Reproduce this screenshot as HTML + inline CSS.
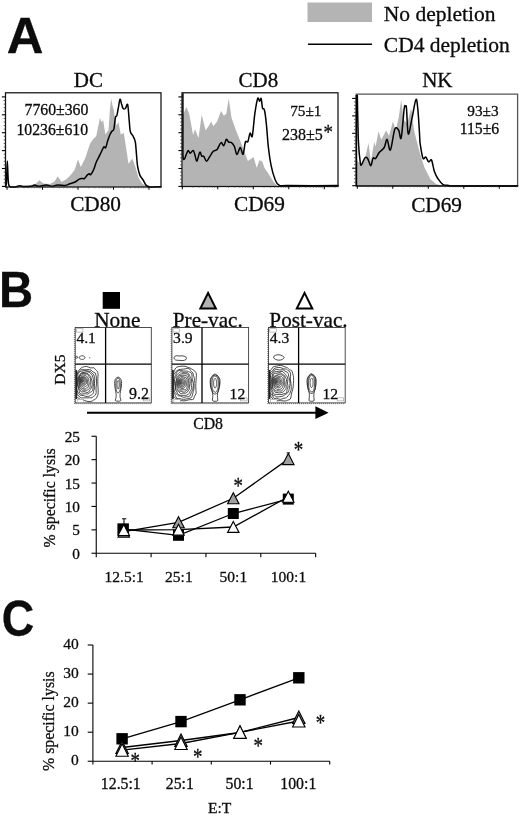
<!DOCTYPE html>
<html><head><meta charset="utf-8"><title>Figure</title>
<style>
html,body{margin:0;padding:0;background:#fff;}
svg{display:block;font-family:"Liberation Serif", serif;fill:#000;}
svg text{fill:#0c0c0c;stroke:#0c0c0c;stroke-width:0.3px;}
svg text.ast{stroke:#111;stroke-width:0.45px;}
</style></head>
<body>
<svg width="520" height="816" viewBox="0 0 520 816">
<rect x="0" y="0" width="520" height="816" fill="#fff"/>
<rect x="307.5" y="2.5" width="64.5" height="19.5" fill="#b4b4b4"/>
<line x1="308" y1="44.2" x2="372" y2="44.2" stroke="#000" stroke-width="1.6"/>
<text x="383.8" y="20.5" font-size="21.5">No depletion</text>
<text x="383.8" y="51.5" font-size="21.5">CD4 depletion</text>
<text transform="translate(6.7,52.6) scale(1.01,1)" font-family='"Liberation Sans", sans-serif' font-weight="bold" font-size="50.3">A</text>
<text transform="translate(-1.0,306.8) scale(0.94,1)" font-family='"Liberation Sans", sans-serif' font-weight="bold" font-size="50.3">B</text>
<text transform="translate(1.7,636.2) scale(0.905,1)" font-family='"Liberation Sans", sans-serif' font-weight="bold" font-size="49.6">C</text>
<text x="88.4" y="87.2" font-size="21" text-anchor="middle">DC</text>
<text x="258.4" y="87.2" font-size="21" text-anchor="middle">CD8</text>
<text x="437.3" y="87.2" font-size="21" text-anchor="middle">NK</text>
<text x="95.6" y="211.2" font-size="21.3" text-anchor="middle">CD80</text>
<text x="259.4" y="211.2" font-size="21.3" text-anchor="middle">CD69</text>
<text x="436.6" y="212" font-size="21.3" text-anchor="middle">CD69</text>
<polygon points="5.5,187.0 5.4,186.9 11.5,186.5 21.2,186.0 30.8,185.0 35.6,184.0 39.4,180.2 43.3,183.5 50.0,184.0 54.8,181.2 57.7,176.3 61.5,182.1 66.3,179.2 70.2,175.4 74.6,170.0 78.0,159.2 80.8,166.9 85.4,157.7 90.0,143.8 93.1,139.2 96.2,136.2 100.0,117.7 101.5,122.3 103.1,120.0 105.4,134.6 108.5,130.0 110.0,108.5 111.2,98.5 112.5,105.4 113.8,110.0 116.2,125.4 118.5,122.3 120.8,134.6 123.8,133.1 126.2,148.5 128.5,163.8 132.3,158.5 135.4,166.9 138.5,177.7 142.3,183.8 146.9,186.6 148.0,187.0" fill="#b4b4b4"/>
<path d="M5.8,186.5C5.9,185.6 6.3,185.4 6.5,181.2C6.8,176.9 7.0,161.0 7.3,161.0C7.6,161.0 7.9,176.9 8.3,181.2C8.7,185.4 8.4,185.4 9.6,186.3C10.8,187.3 13.8,187.0 15.4,186.9C17.0,186.8 17.9,185.8 19.2,185.8C20.5,185.7 21.2,186.4 23.1,186.5C25.0,186.6 28.8,186.6 30.8,186.3C32.7,186.1 33.3,185.0 34.6,185.0C35.9,185.0 36.5,186.2 38.5,186.2C40.4,186.2 43.9,185.0 46.2,185.0C48.4,185.0 50.0,186.2 51.9,186.2C53.8,186.2 55.4,185.1 57.7,185.0C59.9,184.9 63.5,185.5 65.4,185.4C67.3,185.2 67.7,184.6 69.2,184.0C70.8,183.5 72.9,183.1 74.6,182.3C76.3,181.5 78.1,179.9 79.2,179.2C80.4,178.6 80.6,178.6 81.5,178.5C82.4,178.3 83.7,179.0 84.6,178.5C85.5,177.9 86.2,176.2 86.9,175.4C87.7,174.6 88.6,174.0 89.2,173.8C89.9,173.7 90.0,175.4 90.8,174.6C91.5,173.8 92.9,171.3 93.8,169.2C94.7,167.2 95.4,164.2 96.2,162.3C96.9,160.4 97.6,159.5 98.5,157.7C99.4,155.9 100.6,153.3 101.5,151.5C102.4,149.7 103.2,147.6 103.8,146.9C104.5,146.3 105.1,148.7 105.7,147.7C106.3,146.7 106.9,143.1 107.7,140.8C108.5,138.5 109.5,135.5 110.3,133.8C111.1,132.2 111.7,131.5 112.3,130.8C112.9,130.0 113.3,131.4 113.8,129.2C114.4,127.1 114.9,120.0 115.4,117.7C115.9,115.4 116.4,117.2 116.9,115.4C117.4,113.6 117.9,109.6 118.5,106.9C119.0,104.2 119.5,99.7 120.0,99.2C120.5,98.7 121.0,102.3 121.5,103.8C122.1,105.4 122.4,107.7 123.1,108.5C123.7,109.2 124.6,109.1 125.4,108.5C126.2,107.8 127.1,102.6 127.7,104.6C128.3,106.7 128.8,116.3 129.2,120.8C129.7,125.3 129.7,129.0 130.3,131.5C130.9,134.1 132.2,134.4 133.1,136.2C133.9,137.9 134.8,139.2 135.4,142.3C135.9,145.4 136.1,150.5 136.5,154.6C136.8,158.7 137.1,163.5 137.7,166.9C138.3,170.4 139.1,173.2 140.0,175.4C140.9,177.6 142.1,178.3 143.1,180.0C144.1,181.7 145.0,184.2 146.2,185.4C147.3,186.5 147.5,186.7 150.0,186.9C152.5,187.2 159.2,186.8 161.0,186.8" fill="none" stroke="#000" stroke-width="1.5" stroke-linejoin="round" stroke-linecap="round"/>
<rect x="5.5" y="92.8" width="155.5" height="94.2" fill="none" stroke="#111" stroke-width="1.25"/>
<polygon points="182.0,186.5 183.2,136.0 182.5,115.8 186.3,107.1 189.2,113.8 193.1,135.0 195.0,129.2 198.5,137.9 201.7,114.8 205.6,130.2 208.5,126.3 211.3,121.5 213.3,126.3 217.1,121.5 221.0,111.0 223.8,115.8 226.3,113.8 228.7,98.5 231.5,117.7 236.3,131.2 240.2,140.8 244.0,150.4 247.9,161.0 250.8,159.0 253.5,157.1 256.7,167.7 259.6,160.0 262.5,161.9 264.4,167.7 268.3,173.5 273.1,181.2 276.9,185.4 277.0,186.5" fill="#b4b4b4"/>
<path d="M182.9,93.7C182.9,101.8 182.9,132.0 182.9,142.7C182.9,153.4 182.8,155.0 183.1,157.7C183.3,160.4 183.9,159.6 184.4,159.0C185.0,158.5 185.7,155.7 186.3,154.2C187.0,152.8 187.6,150.5 188.3,150.4C188.9,150.2 189.4,153.3 190.2,153.3C191.0,153.3 192.3,150.1 193.1,150.4C193.9,150.7 194.4,153.4 195.0,155.2C195.6,157.0 196.1,161.4 196.9,161.0C197.7,160.5 199.0,153.1 199.8,152.3C200.6,151.5 201.1,155.5 201.7,156.2C202.4,156.8 202.9,155.3 203.7,156.2C204.5,157.0 205.6,161.2 206.5,161.3C207.5,161.5 208.3,158.8 209.4,157.1C210.5,155.4 212.0,152.6 213.3,151.3C214.6,150.1 215.8,150.9 217.1,149.4C218.4,148.0 219.8,143.3 221.0,142.7C222.1,142.1 222.9,146.1 223.8,145.6C224.7,145.0 225.5,140.0 226.3,139.4C227.1,138.8 227.8,141.6 228.7,142.1C229.5,142.7 230.6,142.0 231.5,142.7C232.5,143.4 233.5,144.6 234.4,146.5C235.3,148.5 236.0,154.5 236.9,154.6C237.9,154.8 239.2,147.6 240.2,147.5C241.2,147.4 242.2,155.1 243.1,154.2C243.9,153.3 244.6,144.2 245.4,142.1C246.2,140.0 247.1,143.2 247.9,141.7C248.7,140.2 249.3,134.0 250.0,133.1C250.7,132.1 251.5,139.2 252.3,136.0C253.1,132.8 253.9,120.1 254.8,113.8C255.7,107.6 256.9,100.5 257.7,98.5C258.5,96.4 259.0,101.3 259.6,101.3C260.2,101.3 260.7,97.3 261.2,98.5C261.6,99.6 262.0,106.2 262.5,108.1C263.0,110.0 263.8,107.4 264.4,110.0C265.1,112.6 265.7,117.4 266.3,123.5C267.0,129.6 267.5,139.5 268.3,146.5C269.1,153.6 270.0,160.3 271.2,165.8C272.3,171.2 273.7,176.0 275.0,179.2C276.3,182.4 276.6,183.9 278.8,185.0C281.1,186.1 278.6,185.5 288.5,185.6C298.3,185.7 329.8,185.6 338.1,185.6" fill="none" stroke="#000" stroke-width="1.5" stroke-linejoin="round" stroke-linecap="round"/>
<rect x="182" y="92.8" width="156" height="93.7" fill="none" stroke="#111" stroke-width="1.25"/>
<polygon points="357.0,186.0 357.0,160.0 358.3,161.9 361.2,163.8 365.0,159.0 368.5,142.7 370.8,161.9 374.2,141.7 375.6,146.5 378.5,131.2 381.3,139.8 386.2,130.2 389.0,136.0 392.9,121.5 395.8,130.2 398.7,117.7 401.2,99.4 403.5,119.6 407.3,123.5 411.2,108.1 414.0,130.2 416.9,141.7 420.8,156.2 424.6,167.7 430.4,179.2 436.2,184.0 440.0,185.0 445.0,186.0" fill="#b4b4b4"/>
<path d="M357.3,95.0C357.4,99.7 357.7,115.5 357.9,123.5C358.1,131.4 358.1,136.3 358.5,142.7C358.8,149.1 359.7,158.2 360.2,161.9C360.7,165.6 360.7,165.5 361.5,164.8C362.3,164.1 363.9,158.7 365.0,157.7C366.1,156.7 366.9,157.7 367.9,159.0C368.8,160.4 369.9,165.9 370.8,165.8C371.6,165.6 372.3,159.3 373.1,158.1C373.9,156.9 374.5,159.4 375.6,158.5C376.6,157.5 378.0,154.1 379.4,152.3C380.9,150.5 382.9,149.6 384.2,147.5C385.5,145.4 386.1,139.0 387.1,139.4C388.1,139.8 389.1,151.7 390.4,150.0C391.7,148.3 393.4,132.5 394.8,129.2C396.2,125.9 397.6,128.8 398.7,130.2C399.7,131.6 400.2,141.5 401.2,137.9C402.1,134.3 403.5,113.7 404.2,108.5C404.9,103.2 405.0,106.5 405.4,106.5C405.8,106.5 406.1,103.9 406.5,108.5C407.0,113.0 407.3,132.5 408.3,134.0C409.2,135.6 410.8,123.5 412.1,117.7C413.4,111.9 415.0,100.7 416.0,99.4C416.9,98.1 417.2,103.4 417.9,110.0C418.5,116.6 419.5,133.4 419.8,138.8C420.2,144.3 419.5,139.5 420.0,142.7C420.5,145.9 421.9,155.7 422.9,158.1C423.8,160.5 424.8,156.5 425.8,157.1C426.7,157.8 427.7,161.4 428.7,161.9C429.6,162.4 430.6,158.4 431.5,160.0C432.5,161.6 433.3,168.3 434.4,171.5C435.5,174.7 436.8,177.1 438.3,179.2C439.7,181.4 441.3,183.6 443.1,184.6C444.8,185.6 446.9,185.2 448.8,185.4C450.8,185.6 443.2,185.9 454.6,186.0C466.1,186.1 507.0,186.0 517.5,186.0" fill="none" stroke="#000" stroke-width="1.5" stroke-linejoin="round" stroke-linecap="round"/>
<path d="M356.2,186 L356.2,94.2 L517.6,94.2 L517.6,186" fill="none" stroke="#555" stroke-width="1.3"/>
<line x1="355.6" y1="186" x2="518.2" y2="186" stroke="#000" stroke-width="1.4"/>
<line x1="356.4" y1="95" x2="356.4" y2="186" stroke="#000" stroke-width="1.6"/>
<line x1="1.9" y1="96.9" x2="5.5" y2="96.9" stroke="#000" stroke-width="1.1"/>
<line x1="3.7" y1="100.5" x2="5.5" y2="100.5" stroke="#333" stroke-width="0.8"/>
<line x1="3.7" y1="104.1" x2="5.5" y2="104.1" stroke="#333" stroke-width="0.8"/>
<line x1="3.7" y1="107.6" x2="5.5" y2="107.6" stroke="#333" stroke-width="0.8"/>
<line x1="3.7" y1="111.2" x2="5.5" y2="111.2" stroke="#333" stroke-width="0.8"/>
<line x1="1.9" y1="114.8" x2="5.5" y2="114.8" stroke="#000" stroke-width="1.1"/>
<line x1="3.7" y1="118.4" x2="5.5" y2="118.4" stroke="#333" stroke-width="0.8"/>
<line x1="3.7" y1="122.0" x2="5.5" y2="122.0" stroke="#333" stroke-width="0.8"/>
<line x1="3.7" y1="125.5" x2="5.5" y2="125.5" stroke="#333" stroke-width="0.8"/>
<line x1="3.7" y1="129.1" x2="5.5" y2="129.1" stroke="#333" stroke-width="0.8"/>
<line x1="1.9" y1="132.7" x2="5.5" y2="132.7" stroke="#000" stroke-width="1.1"/>
<line x1="3.7" y1="136.3" x2="5.5" y2="136.3" stroke="#333" stroke-width="0.8"/>
<line x1="3.7" y1="139.9" x2="5.5" y2="139.9" stroke="#333" stroke-width="0.8"/>
<line x1="3.7" y1="143.4" x2="5.5" y2="143.4" stroke="#333" stroke-width="0.8"/>
<line x1="3.7" y1="147.0" x2="5.5" y2="147.0" stroke="#333" stroke-width="0.8"/>
<line x1="1.9" y1="150.6" x2="5.5" y2="150.6" stroke="#000" stroke-width="1.1"/>
<line x1="3.7" y1="154.2" x2="5.5" y2="154.2" stroke="#333" stroke-width="0.8"/>
<line x1="3.7" y1="157.8" x2="5.5" y2="157.8" stroke="#333" stroke-width="0.8"/>
<line x1="3.7" y1="161.3" x2="5.5" y2="161.3" stroke="#333" stroke-width="0.8"/>
<line x1="3.7" y1="164.9" x2="5.5" y2="164.9" stroke="#333" stroke-width="0.8"/>
<line x1="1.9" y1="168.5" x2="5.5" y2="168.5" stroke="#000" stroke-width="1.1"/>
<line x1="3.7" y1="172.1" x2="5.5" y2="172.1" stroke="#333" stroke-width="0.8"/>
<line x1="3.7" y1="175.7" x2="5.5" y2="175.7" stroke="#333" stroke-width="0.8"/>
<line x1="3.7" y1="179.2" x2="5.5" y2="179.2" stroke="#333" stroke-width="0.8"/>
<line x1="3.7" y1="182.8" x2="5.5" y2="182.8" stroke="#333" stroke-width="0.8"/>
<line x1="1.9" y1="186.4" x2="5.5" y2="186.4" stroke="#000" stroke-width="1.1"/>
<line x1="7.0" y1="187.0" x2="7.0" y2="189.8" stroke="#000" stroke-width="1"/>
<line x1="17.7" y1="187.0" x2="17.7" y2="188.5" stroke="#555" stroke-width="0.5"/>
<line x1="23.9" y1="187.0" x2="23.9" y2="188.5" stroke="#555" stroke-width="0.5"/>
<line x1="28.4" y1="187.0" x2="28.4" y2="188.5" stroke="#555" stroke-width="0.5"/>
<line x1="31.8" y1="187.0" x2="31.8" y2="188.5" stroke="#555" stroke-width="0.5"/>
<line x1="34.6" y1="187.0" x2="34.6" y2="188.5" stroke="#555" stroke-width="0.5"/>
<line x1="37.0" y1="187.0" x2="37.0" y2="188.5" stroke="#555" stroke-width="0.5"/>
<line x1="39.1" y1="187.0" x2="39.1" y2="188.5" stroke="#555" stroke-width="0.5"/>
<line x1="40.9" y1="187.0" x2="40.9" y2="188.5" stroke="#555" stroke-width="0.5"/>
<line x1="42.5" y1="187.0" x2="42.5" y2="189.8" stroke="#000" stroke-width="1"/>
<line x1="53.2" y1="187.0" x2="53.2" y2="188.5" stroke="#555" stroke-width="0.5"/>
<line x1="59.4" y1="187.0" x2="59.4" y2="188.5" stroke="#555" stroke-width="0.5"/>
<line x1="63.9" y1="187.0" x2="63.9" y2="188.5" stroke="#555" stroke-width="0.5"/>
<line x1="67.3" y1="187.0" x2="67.3" y2="188.5" stroke="#555" stroke-width="0.5"/>
<line x1="70.1" y1="187.0" x2="70.1" y2="188.5" stroke="#555" stroke-width="0.5"/>
<line x1="72.5" y1="187.0" x2="72.5" y2="188.5" stroke="#555" stroke-width="0.5"/>
<line x1="74.6" y1="187.0" x2="74.6" y2="188.5" stroke="#555" stroke-width="0.5"/>
<line x1="76.4" y1="187.0" x2="76.4" y2="188.5" stroke="#555" stroke-width="0.5"/>
<line x1="78.0" y1="187.0" x2="78.0" y2="189.8" stroke="#000" stroke-width="1"/>
<line x1="88.7" y1="187.0" x2="88.7" y2="188.5" stroke="#555" stroke-width="0.5"/>
<line x1="94.9" y1="187.0" x2="94.9" y2="188.5" stroke="#555" stroke-width="0.5"/>
<line x1="99.4" y1="187.0" x2="99.4" y2="188.5" stroke="#555" stroke-width="0.5"/>
<line x1="102.8" y1="187.0" x2="102.8" y2="188.5" stroke="#555" stroke-width="0.5"/>
<line x1="105.6" y1="187.0" x2="105.6" y2="188.5" stroke="#555" stroke-width="0.5"/>
<line x1="108.0" y1="187.0" x2="108.0" y2="188.5" stroke="#555" stroke-width="0.5"/>
<line x1="110.1" y1="187.0" x2="110.1" y2="188.5" stroke="#555" stroke-width="0.5"/>
<line x1="111.9" y1="187.0" x2="111.9" y2="188.5" stroke="#555" stroke-width="0.5"/>
<line x1="113.5" y1="187.0" x2="113.5" y2="189.8" stroke="#000" stroke-width="1"/>
<line x1="124.2" y1="187.0" x2="124.2" y2="188.5" stroke="#555" stroke-width="0.5"/>
<line x1="130.4" y1="187.0" x2="130.4" y2="188.5" stroke="#555" stroke-width="0.5"/>
<line x1="134.9" y1="187.0" x2="134.9" y2="188.5" stroke="#555" stroke-width="0.5"/>
<line x1="138.3" y1="187.0" x2="138.3" y2="188.5" stroke="#555" stroke-width="0.5"/>
<line x1="141.1" y1="187.0" x2="141.1" y2="188.5" stroke="#555" stroke-width="0.5"/>
<line x1="143.5" y1="187.0" x2="143.5" y2="188.5" stroke="#555" stroke-width="0.5"/>
<line x1="145.6" y1="187.0" x2="145.6" y2="188.5" stroke="#555" stroke-width="0.5"/>
<line x1="147.4" y1="187.0" x2="147.4" y2="188.5" stroke="#555" stroke-width="0.5"/>
<line x1="149.0" y1="187.0" x2="149.0" y2="189.8" stroke="#000" stroke-width="1"/>
<line x1="159.7" y1="187.0" x2="159.7" y2="188.5" stroke="#555" stroke-width="0.5"/>
<line x1="178.4" y1="96.9" x2="182.0" y2="96.9" stroke="#000" stroke-width="1.1"/>
<line x1="180.2" y1="100.5" x2="182.0" y2="100.5" stroke="#333" stroke-width="0.8"/>
<line x1="180.2" y1="104.1" x2="182.0" y2="104.1" stroke="#333" stroke-width="0.8"/>
<line x1="180.2" y1="107.6" x2="182.0" y2="107.6" stroke="#333" stroke-width="0.8"/>
<line x1="180.2" y1="111.2" x2="182.0" y2="111.2" stroke="#333" stroke-width="0.8"/>
<line x1="178.4" y1="114.8" x2="182.0" y2="114.8" stroke="#000" stroke-width="1.1"/>
<line x1="180.2" y1="118.4" x2="182.0" y2="118.4" stroke="#333" stroke-width="0.8"/>
<line x1="180.2" y1="122.0" x2="182.0" y2="122.0" stroke="#333" stroke-width="0.8"/>
<line x1="180.2" y1="125.5" x2="182.0" y2="125.5" stroke="#333" stroke-width="0.8"/>
<line x1="180.2" y1="129.1" x2="182.0" y2="129.1" stroke="#333" stroke-width="0.8"/>
<line x1="178.4" y1="132.7" x2="182.0" y2="132.7" stroke="#000" stroke-width="1.1"/>
<line x1="180.2" y1="136.3" x2="182.0" y2="136.3" stroke="#333" stroke-width="0.8"/>
<line x1="180.2" y1="139.9" x2="182.0" y2="139.9" stroke="#333" stroke-width="0.8"/>
<line x1="180.2" y1="143.4" x2="182.0" y2="143.4" stroke="#333" stroke-width="0.8"/>
<line x1="180.2" y1="147.0" x2="182.0" y2="147.0" stroke="#333" stroke-width="0.8"/>
<line x1="178.4" y1="150.6" x2="182.0" y2="150.6" stroke="#000" stroke-width="1.1"/>
<line x1="180.2" y1="154.2" x2="182.0" y2="154.2" stroke="#333" stroke-width="0.8"/>
<line x1="180.2" y1="157.8" x2="182.0" y2="157.8" stroke="#333" stroke-width="0.8"/>
<line x1="180.2" y1="161.3" x2="182.0" y2="161.3" stroke="#333" stroke-width="0.8"/>
<line x1="180.2" y1="164.9" x2="182.0" y2="164.9" stroke="#333" stroke-width="0.8"/>
<line x1="178.4" y1="168.5" x2="182.0" y2="168.5" stroke="#000" stroke-width="1.1"/>
<line x1="180.2" y1="172.1" x2="182.0" y2="172.1" stroke="#333" stroke-width="0.8"/>
<line x1="180.2" y1="175.7" x2="182.0" y2="175.7" stroke="#333" stroke-width="0.8"/>
<line x1="180.2" y1="179.2" x2="182.0" y2="179.2" stroke="#333" stroke-width="0.8"/>
<line x1="180.2" y1="182.8" x2="182.0" y2="182.8" stroke="#333" stroke-width="0.8"/>
<line x1="178.4" y1="186.4" x2="182.0" y2="186.4" stroke="#000" stroke-width="1.1"/>
<line x1="182.3" y1="186.5" x2="182.3" y2="189.3" stroke="#000" stroke-width="1"/>
<line x1="193.0" y1="186.5" x2="193.0" y2="188.0" stroke="#555" stroke-width="0.5"/>
<line x1="199.2" y1="186.5" x2="199.2" y2="188.0" stroke="#555" stroke-width="0.5"/>
<line x1="203.7" y1="186.5" x2="203.7" y2="188.0" stroke="#555" stroke-width="0.5"/>
<line x1="207.1" y1="186.5" x2="207.1" y2="188.0" stroke="#555" stroke-width="0.5"/>
<line x1="209.9" y1="186.5" x2="209.9" y2="188.0" stroke="#555" stroke-width="0.5"/>
<line x1="212.3" y1="186.5" x2="212.3" y2="188.0" stroke="#555" stroke-width="0.5"/>
<line x1="214.4" y1="186.5" x2="214.4" y2="188.0" stroke="#555" stroke-width="0.5"/>
<line x1="216.2" y1="186.5" x2="216.2" y2="188.0" stroke="#555" stroke-width="0.5"/>
<line x1="217.8" y1="186.5" x2="217.8" y2="189.3" stroke="#000" stroke-width="1"/>
<line x1="228.5" y1="186.5" x2="228.5" y2="188.0" stroke="#555" stroke-width="0.5"/>
<line x1="234.7" y1="186.5" x2="234.7" y2="188.0" stroke="#555" stroke-width="0.5"/>
<line x1="239.2" y1="186.5" x2="239.2" y2="188.0" stroke="#555" stroke-width="0.5"/>
<line x1="242.6" y1="186.5" x2="242.6" y2="188.0" stroke="#555" stroke-width="0.5"/>
<line x1="245.4" y1="186.5" x2="245.4" y2="188.0" stroke="#555" stroke-width="0.5"/>
<line x1="247.8" y1="186.5" x2="247.8" y2="188.0" stroke="#555" stroke-width="0.5"/>
<line x1="249.9" y1="186.5" x2="249.9" y2="188.0" stroke="#555" stroke-width="0.5"/>
<line x1="251.7" y1="186.5" x2="251.7" y2="188.0" stroke="#555" stroke-width="0.5"/>
<line x1="253.3" y1="186.5" x2="253.3" y2="189.3" stroke="#000" stroke-width="1"/>
<line x1="264.0" y1="186.5" x2="264.0" y2="188.0" stroke="#555" stroke-width="0.5"/>
<line x1="270.2" y1="186.5" x2="270.2" y2="188.0" stroke="#555" stroke-width="0.5"/>
<line x1="274.7" y1="186.5" x2="274.7" y2="188.0" stroke="#555" stroke-width="0.5"/>
<line x1="278.1" y1="186.5" x2="278.1" y2="188.0" stroke="#555" stroke-width="0.5"/>
<line x1="280.9" y1="186.5" x2="280.9" y2="188.0" stroke="#555" stroke-width="0.5"/>
<line x1="283.3" y1="186.5" x2="283.3" y2="188.0" stroke="#555" stroke-width="0.5"/>
<line x1="285.4" y1="186.5" x2="285.4" y2="188.0" stroke="#555" stroke-width="0.5"/>
<line x1="287.2" y1="186.5" x2="287.2" y2="188.0" stroke="#555" stroke-width="0.5"/>
<line x1="288.8" y1="186.5" x2="288.8" y2="189.3" stroke="#000" stroke-width="1"/>
<line x1="299.5" y1="186.5" x2="299.5" y2="188.0" stroke="#555" stroke-width="0.5"/>
<line x1="305.7" y1="186.5" x2="305.7" y2="188.0" stroke="#555" stroke-width="0.5"/>
<line x1="310.2" y1="186.5" x2="310.2" y2="188.0" stroke="#555" stroke-width="0.5"/>
<line x1="313.6" y1="186.5" x2="313.6" y2="188.0" stroke="#555" stroke-width="0.5"/>
<line x1="316.4" y1="186.5" x2="316.4" y2="188.0" stroke="#555" stroke-width="0.5"/>
<line x1="318.8" y1="186.5" x2="318.8" y2="188.0" stroke="#555" stroke-width="0.5"/>
<line x1="320.9" y1="186.5" x2="320.9" y2="188.0" stroke="#555" stroke-width="0.5"/>
<line x1="322.7" y1="186.5" x2="322.7" y2="188.0" stroke="#555" stroke-width="0.5"/>
<line x1="324.3" y1="186.5" x2="324.3" y2="189.3" stroke="#000" stroke-width="1"/>
<line x1="335.0" y1="186.5" x2="335.0" y2="188.0" stroke="#555" stroke-width="0.5"/>
<line x1="352.2" y1="98.4" x2="355.8" y2="98.4" stroke="#000" stroke-width="1.1"/>
<line x1="354.0" y1="101.9" x2="355.8" y2="101.9" stroke="#333" stroke-width="0.8"/>
<line x1="354.0" y1="105.4" x2="355.8" y2="105.4" stroke="#333" stroke-width="0.8"/>
<line x1="354.0" y1="108.9" x2="355.8" y2="108.9" stroke="#333" stroke-width="0.8"/>
<line x1="354.0" y1="112.4" x2="355.8" y2="112.4" stroke="#333" stroke-width="0.8"/>
<line x1="352.2" y1="115.9" x2="355.8" y2="115.9" stroke="#000" stroke-width="1.1"/>
<line x1="354.0" y1="119.3" x2="355.8" y2="119.3" stroke="#333" stroke-width="0.8"/>
<line x1="354.0" y1="122.8" x2="355.8" y2="122.8" stroke="#333" stroke-width="0.8"/>
<line x1="354.0" y1="126.3" x2="355.8" y2="126.3" stroke="#333" stroke-width="0.8"/>
<line x1="354.0" y1="129.8" x2="355.8" y2="129.8" stroke="#333" stroke-width="0.8"/>
<line x1="352.2" y1="133.3" x2="355.8" y2="133.3" stroke="#000" stroke-width="1.1"/>
<line x1="354.0" y1="136.8" x2="355.8" y2="136.8" stroke="#333" stroke-width="0.8"/>
<line x1="354.0" y1="140.3" x2="355.8" y2="140.3" stroke="#333" stroke-width="0.8"/>
<line x1="354.0" y1="143.8" x2="355.8" y2="143.8" stroke="#333" stroke-width="0.8"/>
<line x1="354.0" y1="147.3" x2="355.8" y2="147.3" stroke="#333" stroke-width="0.8"/>
<line x1="352.2" y1="150.8" x2="355.8" y2="150.8" stroke="#000" stroke-width="1.1"/>
<line x1="354.0" y1="154.2" x2="355.8" y2="154.2" stroke="#333" stroke-width="0.8"/>
<line x1="354.0" y1="157.7" x2="355.8" y2="157.7" stroke="#333" stroke-width="0.8"/>
<line x1="354.0" y1="161.2" x2="355.8" y2="161.2" stroke="#333" stroke-width="0.8"/>
<line x1="354.0" y1="164.7" x2="355.8" y2="164.7" stroke="#333" stroke-width="0.8"/>
<line x1="352.2" y1="168.2" x2="355.8" y2="168.2" stroke="#000" stroke-width="1.1"/>
<line x1="354.0" y1="171.7" x2="355.8" y2="171.7" stroke="#333" stroke-width="0.8"/>
<line x1="354.0" y1="175.2" x2="355.8" y2="175.2" stroke="#333" stroke-width="0.8"/>
<line x1="354.0" y1="178.7" x2="355.8" y2="178.7" stroke="#333" stroke-width="0.8"/>
<line x1="354.0" y1="182.2" x2="355.8" y2="182.2" stroke="#333" stroke-width="0.8"/>
<line x1="352.2" y1="185.7" x2="355.8" y2="185.7" stroke="#000" stroke-width="1.1"/>
<line x1="357.3" y1="186.0" x2="357.3" y2="188.8" stroke="#000" stroke-width="1"/>
<line x1="368.0" y1="186.0" x2="368.0" y2="187.5" stroke="#555" stroke-width="0.5"/>
<line x1="374.2" y1="186.0" x2="374.2" y2="187.5" stroke="#555" stroke-width="0.5"/>
<line x1="378.7" y1="186.0" x2="378.7" y2="187.5" stroke="#555" stroke-width="0.5"/>
<line x1="382.1" y1="186.0" x2="382.1" y2="187.5" stroke="#555" stroke-width="0.5"/>
<line x1="384.9" y1="186.0" x2="384.9" y2="187.5" stroke="#555" stroke-width="0.5"/>
<line x1="387.3" y1="186.0" x2="387.3" y2="187.5" stroke="#555" stroke-width="0.5"/>
<line x1="389.4" y1="186.0" x2="389.4" y2="187.5" stroke="#555" stroke-width="0.5"/>
<line x1="391.2" y1="186.0" x2="391.2" y2="187.5" stroke="#555" stroke-width="0.5"/>
<line x1="392.8" y1="186.0" x2="392.8" y2="188.8" stroke="#000" stroke-width="1"/>
<line x1="403.5" y1="186.0" x2="403.5" y2="187.5" stroke="#555" stroke-width="0.5"/>
<line x1="409.7" y1="186.0" x2="409.7" y2="187.5" stroke="#555" stroke-width="0.5"/>
<line x1="414.2" y1="186.0" x2="414.2" y2="187.5" stroke="#555" stroke-width="0.5"/>
<line x1="417.6" y1="186.0" x2="417.6" y2="187.5" stroke="#555" stroke-width="0.5"/>
<line x1="420.4" y1="186.0" x2="420.4" y2="187.5" stroke="#555" stroke-width="0.5"/>
<line x1="422.8" y1="186.0" x2="422.8" y2="187.5" stroke="#555" stroke-width="0.5"/>
<line x1="424.9" y1="186.0" x2="424.9" y2="187.5" stroke="#555" stroke-width="0.5"/>
<line x1="426.7" y1="186.0" x2="426.7" y2="187.5" stroke="#555" stroke-width="0.5"/>
<line x1="428.3" y1="186.0" x2="428.3" y2="188.8" stroke="#000" stroke-width="1"/>
<line x1="439.0" y1="186.0" x2="439.0" y2="187.5" stroke="#555" stroke-width="0.5"/>
<line x1="445.2" y1="186.0" x2="445.2" y2="187.5" stroke="#555" stroke-width="0.5"/>
<line x1="449.7" y1="186.0" x2="449.7" y2="187.5" stroke="#555" stroke-width="0.5"/>
<line x1="453.1" y1="186.0" x2="453.1" y2="187.5" stroke="#555" stroke-width="0.5"/>
<line x1="455.9" y1="186.0" x2="455.9" y2="187.5" stroke="#555" stroke-width="0.5"/>
<line x1="458.3" y1="186.0" x2="458.3" y2="187.5" stroke="#555" stroke-width="0.5"/>
<line x1="460.4" y1="186.0" x2="460.4" y2="187.5" stroke="#555" stroke-width="0.5"/>
<line x1="462.2" y1="186.0" x2="462.2" y2="187.5" stroke="#555" stroke-width="0.5"/>
<line x1="463.8" y1="186.0" x2="463.8" y2="188.8" stroke="#000" stroke-width="1"/>
<line x1="474.5" y1="186.0" x2="474.5" y2="187.5" stroke="#555" stroke-width="0.5"/>
<line x1="480.7" y1="186.0" x2="480.7" y2="187.5" stroke="#555" stroke-width="0.5"/>
<line x1="485.2" y1="186.0" x2="485.2" y2="187.5" stroke="#555" stroke-width="0.5"/>
<line x1="488.6" y1="186.0" x2="488.6" y2="187.5" stroke="#555" stroke-width="0.5"/>
<line x1="491.4" y1="186.0" x2="491.4" y2="187.5" stroke="#555" stroke-width="0.5"/>
<line x1="493.8" y1="186.0" x2="493.8" y2="187.5" stroke="#555" stroke-width="0.5"/>
<line x1="495.9" y1="186.0" x2="495.9" y2="187.5" stroke="#555" stroke-width="0.5"/>
<line x1="497.7" y1="186.0" x2="497.7" y2="187.5" stroke="#555" stroke-width="0.5"/>
<line x1="499.3" y1="186.0" x2="499.3" y2="188.8" stroke="#000" stroke-width="1"/>
<line x1="510.0" y1="186.0" x2="510.0" y2="187.5" stroke="#555" stroke-width="0.5"/>
<line x1="516.2" y1="186.0" x2="516.2" y2="187.5" stroke="#555" stroke-width="0.5"/>
<text x="88.3" y="115.2" font-size="15.75" text-anchor="end">7760±360</text>
<text x="88.1" y="134.6" font-size="15.75" text-anchor="end">10236±610</text>
<text x="321.5" y="115.5" font-size="15.3" text-anchor="end">75±1</text>
<text x="322.8" y="140.4" font-size="16" text-anchor="end">238±5</text>
<text transform="translate(328.25,129.1) scale(0.9,1.0)" x="0" y="10.3" font-size="21" text-anchor="middle">*</text>
<text x="498.6" y="115.7" font-size="15.3" text-anchor="end">93±3</text>
<text x="499.2" y="134.4" font-size="15.75" text-anchor="end">115±6</text>
<rect x="102.7" y="292" width="17.3" height="16.8" fill="#000"/>
<polygon points="208.1,292.9 200.35,308.5 215.85,308.5" fill="#b2b2b2" stroke="#000" stroke-width="2" stroke-linejoin="miter"/>
<polygon points="304.55,292.9 296.8,308.5 312.3,308.5" fill="#fff" stroke="#000" stroke-width="2" stroke-linejoin="miter"/>
<text x="117.3" y="326.7" font-size="21.3" text-anchor="middle">None</text>
<text x="207.8" y="326.7" font-size="21.2" text-anchor="middle">Pre-vac.</text>
<text x="308.5" y="326.7" font-size="21.2" text-anchor="middle">Post-vac.</text>
<text transform="translate(64.6,369.5) rotate(-90)" font-size="15.6" text-anchor="middle">DX5</text>
<clipPath id="c1"><rect x="75.2" y="327.5" width="76.10000000000001" height="75.39999999999998"/></clipPath>
<g clip-path="url(#c1)">
<path d="M97.8,381.3Q97.8,384.3 98.0,387.4Q98.2,390.5 98.2,392.5Q98.2,394.5 97.6,395.8Q97.0,397.1 96.3,398.2Q95.6,399.3 94.5,399.6Q93.4,400.0 92.3,400.9Q91.2,401.8 89.0,401.6Q86.7,401.4 84.7,400.6Q82.7,399.9 81.3,400.0Q80.0,400.0 79.3,398.9Q78.7,397.7 77.4,397.6Q76.0,397.6 75.4,396.2Q74.9,394.7 75.2,392.6Q75.4,390.4 75.3,387.3Q75.3,384.3 74.9,381.0Q74.6,377.8 75.4,376.4Q76.2,375.0 76.7,373.8Q77.2,372.5 77.9,371.6Q78.5,370.6 79.3,369.7Q80.1,368.8 81.2,368.0Q82.3,367.2 84.5,366.6Q86.7,366.0 88.8,367.2Q90.8,368.4 92.4,367.8Q94.0,367.3 94.7,368.5Q95.4,369.7 96.4,370.4Q97.4,371.1 97.8,372.6Q98.3,374.1 98.0,376.2Q97.7,378.4 97.8,381.3Z" fill="none" stroke="#1c1c1c" stroke-width="0.8"/>
<path d="M96.5,381.2Q96.6,383.8 96.2,386.3Q95.8,388.8 96.1,390.8Q96.4,392.7 95.9,394.0Q95.4,395.2 94.5,395.7Q93.5,396.2 92.8,397.1Q92.1,397.9 90.9,397.8Q89.7,397.7 87.9,397.8Q86.2,397.9 84.4,397.9Q82.7,397.8 81.4,397.9Q80.2,398.0 79.7,396.8Q79.1,395.7 78.0,395.5Q76.9,395.3 77.1,393.4Q77.3,391.6 76.9,390.2Q76.6,388.8 76.6,386.3Q76.6,383.8 76.1,381.1Q75.7,378.4 76.2,377.1Q76.8,375.7 77.2,374.5Q77.6,373.2 78.3,372.5Q79.0,371.7 79.6,370.8Q80.3,369.8 81.4,369.7Q82.6,369.6 84.4,369.7Q86.2,369.8 88.0,369.6Q89.8,369.5 90.8,370.0Q91.8,370.5 92.4,371.4Q93.1,372.2 94.2,372.4Q95.3,372.6 95.6,374.0Q96.0,375.3 96.3,376.9Q96.5,378.5 96.5,381.2Z" fill="none" stroke="#1c1c1c" stroke-width="0.8"/>
<path d="M94.6,381.2Q94.3,383.5 94.5,385.7Q94.8,388.0 94.2,389.1Q93.7,390.2 93.6,391.6Q93.6,393.0 92.9,393.7Q92.3,394.5 91.5,394.9Q90.6,395.2 89.8,395.8Q88.9,396.4 87.3,396.5Q85.8,396.5 84.3,395.9Q82.9,395.2 81.8,395.4Q80.8,395.5 80.0,395.0Q79.2,394.5 78.7,393.6Q78.2,392.7 77.5,391.9Q76.9,391.0 76.7,389.5Q76.6,388.0 76.7,385.8Q76.9,383.5 77.1,381.3Q77.3,379.2 77.6,378.0Q77.9,376.8 77.8,375.3Q77.8,373.8 78.5,373.0Q79.1,372.3 79.9,371.8Q80.7,371.3 81.7,371.1Q82.7,370.9 84.2,370.7Q85.8,370.5 87.2,370.9Q88.7,371.3 89.7,371.4Q90.8,371.4 91.3,372.3Q91.8,373.2 92.7,373.6Q93.5,374.1 93.9,375.1Q94.3,376.2 94.6,377.6Q94.9,378.9 94.6,381.2Z" fill="none" stroke="#1c1c1c" stroke-width="0.8"/>
<path d="M93.7,381.2Q93.9,383.1 93.5,384.9Q93.1,386.8 93.0,388.1Q92.9,389.4 92.6,390.4Q92.2,391.3 91.4,391.7Q90.7,392.1 90.0,392.4Q89.3,392.8 88.7,393.6Q88.0,394.3 86.7,394.0Q85.4,393.7 84.1,393.8Q82.8,393.9 81.8,394.1Q80.9,394.2 80.2,393.6Q79.5,393.0 79.3,391.8Q79.2,390.6 78.9,389.7Q78.6,388.8 78.3,387.7Q78.0,386.6 77.5,384.9Q77.1,383.1 77.6,381.4Q78.2,379.7 78.3,378.5Q78.4,377.3 78.8,376.5Q79.2,375.7 79.7,375.0Q80.1,374.3 80.6,373.5Q81.1,372.7 82.0,372.6Q82.9,372.6 84.1,372.3Q85.4,372.0 86.7,371.8Q88.1,371.7 88.9,372.0Q89.8,372.3 90.3,373.1Q90.8,373.9 91.5,374.3Q92.2,374.8 92.5,375.9Q92.8,377.0 93.1,378.1Q93.5,379.2 93.7,381.2Z" fill="none" stroke="#1c1c1c" stroke-width="0.8"/>
<path d="M92.0,381.2Q92.3,382.8 92.2,384.4Q92.1,386.0 91.8,387.0Q91.5,388.1 90.9,388.6Q90.4,389.2 90.0,389.9Q89.6,390.6 89.2,391.3Q88.7,392.0 88.0,392.4Q87.2,392.7 86.1,392.2Q85.0,391.7 84.0,391.7Q83.0,391.8 82.1,392.0Q81.2,392.3 80.9,391.3Q80.6,390.3 79.9,390.0Q79.2,389.7 79.1,388.7Q78.9,387.7 78.5,386.8Q78.2,385.9 78.0,384.3Q77.8,382.8 78.0,381.2Q78.2,379.7 78.5,378.7Q78.8,377.8 79.2,377.0Q79.5,376.3 79.9,375.5Q80.2,374.6 80.8,374.2Q81.4,373.7 82.1,373.6Q82.9,373.5 83.9,373.3Q85.0,373.2 86.1,373.2Q87.2,373.3 87.8,373.7Q88.4,374.2 89.0,374.7Q89.5,375.2 90.1,375.6Q90.7,376.0 90.8,377.0Q90.9,378.0 91.3,378.9Q91.8,379.7 92.0,381.2Z" fill="none" stroke="#1c1c1c" stroke-width="0.8"/>
<path d="M90.7,381.2Q90.7,382.5 90.4,383.7Q90.1,384.9 90.2,385.8Q90.2,386.8 89.9,387.6Q89.7,388.4 89.1,388.7Q88.5,388.9 88.1,389.6Q87.7,390.3 87.0,390.2Q86.3,390.2 85.5,390.2Q84.6,390.2 83.8,390.2Q83.0,390.2 82.3,390.2Q81.6,390.2 81.3,389.5Q80.9,388.8 80.4,388.5Q79.8,388.2 79.6,387.4Q79.5,386.5 79.4,385.7Q79.3,384.8 79.1,383.6Q79.0,382.5 79.0,381.3Q79.1,380.1 79.3,379.2Q79.4,378.3 79.5,377.4Q79.6,376.6 80.0,376.0Q80.4,375.3 81.1,375.3Q81.8,375.3 82.3,374.6Q82.8,373.9 83.7,374.0Q84.6,374.2 85.6,374.1Q86.5,373.9 87.1,374.3Q87.7,374.6 88.2,375.2Q88.6,375.8 88.9,376.4Q89.2,377.1 89.7,377.6Q90.3,378.0 90.5,378.9Q90.7,379.8 90.7,381.2Z" fill="none" stroke="#1c1c1c" stroke-width="0.8"/>
<path d="M88.9,381.3Q89.2,382.2 89.2,383.2Q89.2,384.2 88.8,384.7Q88.3,385.2 88.4,386.1Q88.4,387.0 88.1,387.4Q87.7,387.8 87.1,387.8Q86.5,387.8 86.1,388.4Q85.7,389.0 85.0,389.0Q84.3,389.1 83.7,388.7Q83.0,388.3 82.4,388.5Q81.8,388.7 81.5,388.1Q81.2,387.4 80.8,387.0Q80.5,386.6 80.2,386.1Q79.9,385.6 79.7,384.8Q79.5,384.1 79.4,383.1Q79.4,382.2 79.6,381.2Q79.8,380.3 79.9,379.6Q80.0,378.9 80.3,378.4Q80.7,377.9 80.9,377.4Q81.2,377.0 81.6,376.5Q81.9,376.1 82.5,376.1Q83.0,376.1 83.7,375.9Q84.3,375.7 85.0,375.5Q85.7,375.3 86.1,375.9Q86.5,376.4 87.0,376.6Q87.5,376.8 87.7,377.4Q87.9,378.0 88.3,378.4Q88.8,378.7 88.7,379.6Q88.6,380.4 88.9,381.3Z" fill="none" stroke="#1c1c1c" stroke-width="0.8"/>
<path d="M87.6,381.2Q87.6,381.9 87.6,382.6Q87.7,383.3 87.7,383.9Q87.7,384.6 87.4,385.0Q87.1,385.4 86.8,385.7Q86.4,386.0 86.1,386.2Q85.7,386.5 85.3,386.5Q84.9,386.6 84.4,387.1Q84.0,387.5 83.4,387.3Q82.9,387.1 82.6,386.8Q82.2,386.4 81.8,386.3Q81.4,386.1 81.1,385.8Q80.8,385.4 80.6,385.0Q80.3,384.5 80.4,383.9Q80.4,383.2 80.4,382.5Q80.3,381.9 80.4,381.2Q80.5,380.5 80.5,379.9Q80.5,379.3 80.6,378.8Q80.7,378.2 81.1,377.9Q81.4,377.5 81.8,377.5Q82.3,377.4 82.6,377.1Q83.0,376.9 83.5,377.0Q84.0,377.0 84.4,377.0Q84.9,377.1 85.4,377.1Q85.8,377.1 86.0,377.5Q86.3,377.9 86.6,378.2Q86.9,378.6 87.1,379.0Q87.3,379.5 87.4,380.0Q87.6,380.5 87.6,381.2Z" fill="none" stroke="#1c1c1c" stroke-width="0.8"/>
<path d="M86.4,381.1Q86.3,381.6 86.4,382.1Q86.5,382.6 86.4,383.0Q86.3,383.4 86.1,383.7Q85.8,384.0 85.6,384.2Q85.4,384.5 85.1,384.6Q84.9,384.8 84.6,384.9Q84.3,385.0 84.0,385.1Q83.6,385.2 83.3,385.1Q83.0,385.1 82.6,385.1Q82.3,385.2 82.1,384.8Q81.9,384.4 81.7,384.2Q81.5,383.9 81.2,383.7Q80.9,383.5 80.8,383.0Q80.7,382.6 80.9,382.1Q81.0,381.6 81.0,381.1Q81.0,380.6 81.0,380.2Q80.9,379.7 81.2,379.4Q81.5,379.2 81.6,378.8Q81.8,378.5 82.0,378.3Q82.3,378.0 82.6,377.9Q82.9,377.8 83.3,377.9Q83.6,378.1 84.0,377.9Q84.4,377.8 84.7,377.9Q85.0,378.0 85.2,378.3Q85.4,378.6 85.6,378.9Q85.8,379.2 86.0,379.5Q86.3,379.7 86.4,380.1Q86.6,380.5 86.4,381.1Z" fill="none" stroke="#1c1c1c" stroke-width="0.8"/>
<path d="M85.1,381.0Q85.1,381.3 85.1,381.6Q85.1,381.8 85.0,382.1Q85.0,382.4 84.8,382.5Q84.7,382.7 84.6,382.9Q84.5,383.2 84.3,383.4Q84.2,383.6 84.0,383.6Q83.8,383.6 83.5,383.6Q83.3,383.7 83.1,383.7Q82.9,383.7 82.7,383.6Q82.5,383.4 82.3,383.3Q82.2,383.1 82.0,383.0Q81.8,382.9 81.8,382.6Q81.7,382.3 81.6,382.1Q81.4,381.9 81.4,381.6Q81.4,381.3 81.4,381.0Q81.5,380.7 81.6,380.5Q81.7,380.2 81.8,380.0Q82.0,379.9 82.1,379.7Q82.2,379.5 82.3,379.3Q82.5,379.0 82.7,379.0Q82.9,378.9 83.1,378.9Q83.3,378.9 83.5,379.0Q83.7,379.1 84.0,379.1Q84.2,379.1 84.4,379.2Q84.6,379.3 84.7,379.5Q84.9,379.7 84.9,379.9Q85.0,380.2 85.1,380.5Q85.1,380.7 85.1,381.0Z" fill="none" stroke="#1c1c1c" stroke-width="0.8"/>
<path d="M84.0,380.9Q84.0,381.0 83.9,381.1Q83.9,381.2 83.9,381.3Q83.9,381.5 83.8,381.5Q83.7,381.6 83.6,381.7Q83.6,381.8 83.5,381.8Q83.4,381.9 83.3,381.9Q83.2,382.0 83.1,382.0Q83.0,381.9 82.9,381.9Q82.8,382.0 82.7,381.9Q82.6,381.9 82.6,381.8Q82.5,381.7 82.4,381.7Q82.3,381.7 82.2,381.6Q82.1,381.5 82.2,381.3Q82.2,381.2 82.1,381.1Q82.1,381.0 82.1,380.9Q82.1,380.8 82.2,380.7Q82.2,380.6 82.2,380.5Q82.3,380.4 82.4,380.3Q82.4,380.2 82.5,380.2Q82.6,380.1 82.7,380.1Q82.8,380.0 82.9,380.0Q83.0,380.0 83.1,380.0Q83.2,379.9 83.3,380.0Q83.4,380.0 83.5,380.1Q83.6,380.2 83.6,380.3Q83.7,380.4 83.8,380.5Q83.9,380.5 83.9,380.6Q83.9,380.8 84.0,380.9Z" fill="none" stroke="#1c1c1c" stroke-width="0.8"/>
<rect x="75.2" y="370" width="1.9" height="29" fill="#222"/>
<ellipse cx="82.0" cy="381.0" rx="5.2" ry="5.6" fill="#555" opacity="0.35"/>
<ellipse cx="81.0" cy="380.0" rx="2.6" ry="3" fill="#333" opacity="0.4"/>
<path d="M116.6,377.7Q118.1,376.5 119.6,377.7Q121.1,379.0 121.4,381.2Q121.8,383.4 121.4,386.1Q121.1,388.9 120.5,391.3Q120.0,393.8 120.0,395.8Q120.0,397.7 120.6,399.1Q121.2,400.5 120.6,400.8Q120.0,401.2 118.1,401.2Q116.2,401.2 115.6,400.8Q115.0,400.5 115.6,399.1Q116.2,397.7 116.2,395.8Q116.2,393.8 115.7,391.3Q115.1,388.9 114.8,386.1Q114.4,383.4 114.8,381.2Q115.1,379.0 116.6,377.7Z" fill="none" stroke="#1c1c1c" stroke-width="0.8"/>
<path d="M120.4,384.4Q120.4,385.4 120.4,386.3Q120.4,387.3 120.3,388.0Q120.1,388.8 120.1,389.6Q120.0,390.4 119.8,390.8Q119.6,391.2 119.4,391.6Q119.2,392.0 118.9,392.4Q118.7,392.8 118.4,392.7Q118.1,392.7 117.8,392.8Q117.5,393.0 117.3,392.5Q117.0,392.1 116.8,391.7Q116.6,391.2 116.5,390.6Q116.4,390.0 116.2,389.5Q116.0,388.9 115.9,388.1Q115.9,387.2 115.9,386.3Q115.8,385.4 115.8,384.4Q115.8,383.5 115.9,382.7Q116.0,381.9 116.1,381.1Q116.2,380.4 116.4,379.9Q116.6,379.5 116.8,379.1Q117.0,378.7 117.3,378.6Q117.5,378.4 117.8,378.4Q118.1,378.3 118.4,378.4Q118.7,378.4 118.9,378.5Q119.2,378.6 119.4,379.1Q119.5,379.7 119.7,380.1Q119.9,380.6 120.0,381.3Q120.1,382.0 120.3,382.7Q120.4,383.4 120.4,384.4Z" fill="none" stroke="#1c1c1c" stroke-width="0.8"/>
<path d="M119.2,384.1Q119.2,384.7 119.2,385.2Q119.2,385.7 119.2,386.2Q119.1,386.7 119.0,387.0Q119.0,387.3 118.9,387.7Q118.8,388.1 118.7,388.3Q118.6,388.5 118.5,388.7Q118.4,388.9 118.2,388.9Q118.1,389.0 118.0,388.8Q117.8,388.7 117.7,388.6Q117.6,388.5 117.5,388.3Q117.4,388.0 117.3,387.7Q117.2,387.4 117.1,387.0Q117.1,386.6 117.0,386.2Q117.0,385.7 117.0,385.2Q117.0,384.7 117.0,384.1Q117.0,383.6 117.1,383.1Q117.1,382.7 117.2,382.3Q117.2,381.9 117.3,381.6Q117.4,381.2 117.5,381.1Q117.6,380.9 117.7,380.8Q117.8,380.7 118.0,380.6Q118.1,380.5 118.2,380.6Q118.4,380.7 118.5,380.7Q118.6,380.7 118.7,381.1Q118.8,381.4 118.9,381.7Q118.9,382.1 119.0,382.4Q119.1,382.7 119.1,383.1Q119.2,383.6 119.2,384.1Z" fill="none" stroke="#1c1c1c" stroke-width="0.8"/>
<path d="M85.0,357.4Q84.9,357.6 84.9,357.8Q84.8,358.0 84.8,358.2Q84.8,358.4 84.5,358.5Q84.3,358.7 84.1,358.9Q84.0,359.1 83.7,359.2Q83.4,359.3 83.1,359.3Q82.8,359.4 82.4,359.4Q82.1,359.4 81.8,359.4Q81.4,359.4 81.2,359.3Q80.9,359.2 80.6,359.1Q80.3,359.0 80.1,358.9Q79.9,358.7 79.7,358.5Q79.5,358.4 79.3,358.2Q79.1,358.0 79.2,357.8Q79.3,357.6 79.2,357.4Q79.2,357.2 79.3,357.0Q79.4,356.8 79.7,356.7Q79.9,356.5 80.1,356.3Q80.2,356.1 80.5,356.1Q80.8,356.0 81.2,355.9Q81.5,355.8 81.8,355.8Q82.1,355.8 82.4,355.8Q82.7,355.8 83.1,355.9Q83.4,355.9 83.6,356.1Q83.9,356.2 84.2,356.3Q84.4,356.5 84.6,356.6Q84.8,356.8 84.9,357.0Q85.0,357.2 85.0,357.4Z" fill="none" stroke="#1c1c1c" stroke-width="0.8"/><circle cx="76.5" cy="357.3" r="1" fill="none" stroke="#1c1c1c" stroke-width="0.8"/><circle cx="89.8" cy="357.8" r="0.55" fill="#222"/>
</g>
<rect x="75.2" y="327.5" width="76.10000000000001" height="75.39999999999998" fill="none" stroke="#3a3a3a" stroke-width="0.9"/>
<line x1="105.6" y1="327.5" x2="105.6" y2="402.9" stroke="#000" stroke-width="1.3"/>
<line x1="75.2" y1="364.1" x2="151.3" y2="364.1" stroke="#000" stroke-width="1.3"/>
<rect x="76.4" y="328.7" width="6.5" height="3.4" fill="#fff" stroke="#999" stroke-width="0.6"/>
<rect x="77.2" y="399.29999999999995" width="6.5" height="3" fill="#fff" stroke="#999" stroke-width="0.6"/>
<rect x="143.3" y="397.9" width="6.5" height="3" fill="#fff" stroke="#999" stroke-width="0.6"/>
<line x1="73.9" y1="329.5" x2="75.2" y2="329.5" stroke="#444" stroke-width="0.6"/>
<line x1="76.2" y1="402.9" x2="76.2" y2="404.2" stroke="#444" stroke-width="0.6"/>
<line x1="73.9" y1="331.5" x2="75.2" y2="331.5" stroke="#444" stroke-width="0.6"/>
<line x1="78.2" y1="402.9" x2="78.2" y2="404.2" stroke="#444" stroke-width="0.6"/>
<line x1="73.9" y1="333.5" x2="75.2" y2="333.5" stroke="#444" stroke-width="0.6"/>
<line x1="80.2" y1="402.9" x2="80.2" y2="404.2" stroke="#444" stroke-width="0.6"/>
<line x1="73.9" y1="335.5" x2="75.2" y2="335.5" stroke="#444" stroke-width="0.6"/>
<line x1="82.2" y1="402.9" x2="82.2" y2="404.2" stroke="#444" stroke-width="0.6"/>
<line x1="73.9" y1="337.5" x2="75.2" y2="337.5" stroke="#444" stroke-width="0.6"/>
<line x1="84.2" y1="402.9" x2="84.2" y2="404.2" stroke="#444" stroke-width="0.6"/>
<line x1="73.9" y1="339.5" x2="75.2" y2="339.5" stroke="#444" stroke-width="0.6"/>
<line x1="86.2" y1="402.9" x2="86.2" y2="404.2" stroke="#444" stroke-width="0.6"/>
<line x1="73.9" y1="341.5" x2="75.2" y2="341.5" stroke="#444" stroke-width="0.6"/>
<line x1="88.2" y1="402.9" x2="88.2" y2="404.2" stroke="#444" stroke-width="0.6"/>
<line x1="73.9" y1="343.5" x2="75.2" y2="343.5" stroke="#444" stroke-width="0.6"/>
<line x1="90.2" y1="402.9" x2="90.2" y2="404.2" stroke="#444" stroke-width="0.6"/>
<line x1="73.9" y1="345.5" x2="75.2" y2="345.5" stroke="#444" stroke-width="0.6"/>
<line x1="92.2" y1="402.9" x2="92.2" y2="404.2" stroke="#444" stroke-width="0.6"/>
<line x1="73.9" y1="347.5" x2="75.2" y2="347.5" stroke="#444" stroke-width="0.6"/>
<line x1="94.2" y1="402.9" x2="94.2" y2="404.2" stroke="#444" stroke-width="0.6"/>
<line x1="73.9" y1="349.5" x2="75.2" y2="349.5" stroke="#444" stroke-width="0.6"/>
<line x1="96.2" y1="402.9" x2="96.2" y2="404.2" stroke="#444" stroke-width="0.6"/>
<line x1="73.9" y1="351.5" x2="75.2" y2="351.5" stroke="#444" stroke-width="0.6"/>
<line x1="98.2" y1="402.9" x2="98.2" y2="404.2" stroke="#444" stroke-width="0.6"/>
<line x1="73.9" y1="353.5" x2="75.2" y2="353.5" stroke="#444" stroke-width="0.6"/>
<line x1="100.2" y1="402.9" x2="100.2" y2="404.2" stroke="#444" stroke-width="0.6"/>
<line x1="73.9" y1="355.5" x2="75.2" y2="355.5" stroke="#444" stroke-width="0.6"/>
<line x1="102.2" y1="402.9" x2="102.2" y2="404.2" stroke="#444" stroke-width="0.6"/>
<line x1="73.9" y1="357.5" x2="75.2" y2="357.5" stroke="#444" stroke-width="0.6"/>
<line x1="104.2" y1="402.9" x2="104.2" y2="404.2" stroke="#444" stroke-width="0.6"/>
<line x1="73.9" y1="359.5" x2="75.2" y2="359.5" stroke="#444" stroke-width="0.6"/>
<line x1="106.2" y1="402.9" x2="106.2" y2="404.2" stroke="#444" stroke-width="0.6"/>
<line x1="73.9" y1="361.5" x2="75.2" y2="361.5" stroke="#444" stroke-width="0.6"/>
<line x1="108.2" y1="402.9" x2="108.2" y2="404.2" stroke="#444" stroke-width="0.6"/>
<line x1="73.9" y1="363.5" x2="75.2" y2="363.5" stroke="#444" stroke-width="0.6"/>
<line x1="110.2" y1="402.9" x2="110.2" y2="404.2" stroke="#444" stroke-width="0.6"/>
<line x1="73.9" y1="365.5" x2="75.2" y2="365.5" stroke="#444" stroke-width="0.6"/>
<line x1="112.2" y1="402.9" x2="112.2" y2="404.2" stroke="#444" stroke-width="0.6"/>
<line x1="73.9" y1="367.5" x2="75.2" y2="367.5" stroke="#444" stroke-width="0.6"/>
<line x1="114.2" y1="402.9" x2="114.2" y2="404.2" stroke="#444" stroke-width="0.6"/>
<line x1="73.9" y1="369.5" x2="75.2" y2="369.5" stroke="#444" stroke-width="0.6"/>
<line x1="116.2" y1="402.9" x2="116.2" y2="404.2" stroke="#444" stroke-width="0.6"/>
<line x1="73.9" y1="371.5" x2="75.2" y2="371.5" stroke="#444" stroke-width="0.6"/>
<line x1="118.2" y1="402.9" x2="118.2" y2="404.2" stroke="#444" stroke-width="0.6"/>
<line x1="73.9" y1="373.5" x2="75.2" y2="373.5" stroke="#444" stroke-width="0.6"/>
<line x1="120.2" y1="402.9" x2="120.2" y2="404.2" stroke="#444" stroke-width="0.6"/>
<line x1="73.9" y1="375.5" x2="75.2" y2="375.5" stroke="#444" stroke-width="0.6"/>
<line x1="122.2" y1="402.9" x2="122.2" y2="404.2" stroke="#444" stroke-width="0.6"/>
<line x1="73.9" y1="377.5" x2="75.2" y2="377.5" stroke="#444" stroke-width="0.6"/>
<line x1="124.2" y1="402.9" x2="124.2" y2="404.2" stroke="#444" stroke-width="0.6"/>
<line x1="73.9" y1="379.5" x2="75.2" y2="379.5" stroke="#444" stroke-width="0.6"/>
<line x1="126.2" y1="402.9" x2="126.2" y2="404.2" stroke="#444" stroke-width="0.6"/>
<line x1="73.9" y1="381.5" x2="75.2" y2="381.5" stroke="#444" stroke-width="0.6"/>
<line x1="128.2" y1="402.9" x2="128.2" y2="404.2" stroke="#444" stroke-width="0.6"/>
<line x1="73.9" y1="383.5" x2="75.2" y2="383.5" stroke="#444" stroke-width="0.6"/>
<line x1="130.2" y1="402.9" x2="130.2" y2="404.2" stroke="#444" stroke-width="0.6"/>
<line x1="73.9" y1="385.5" x2="75.2" y2="385.5" stroke="#444" stroke-width="0.6"/>
<line x1="132.2" y1="402.9" x2="132.2" y2="404.2" stroke="#444" stroke-width="0.6"/>
<line x1="73.9" y1="387.5" x2="75.2" y2="387.5" stroke="#444" stroke-width="0.6"/>
<line x1="134.2" y1="402.9" x2="134.2" y2="404.2" stroke="#444" stroke-width="0.6"/>
<line x1="73.9" y1="389.5" x2="75.2" y2="389.5" stroke="#444" stroke-width="0.6"/>
<line x1="136.2" y1="402.9" x2="136.2" y2="404.2" stroke="#444" stroke-width="0.6"/>
<line x1="73.9" y1="391.5" x2="75.2" y2="391.5" stroke="#444" stroke-width="0.6"/>
<line x1="138.2" y1="402.9" x2="138.2" y2="404.2" stroke="#444" stroke-width="0.6"/>
<line x1="73.9" y1="393.5" x2="75.2" y2="393.5" stroke="#444" stroke-width="0.6"/>
<line x1="140.2" y1="402.9" x2="140.2" y2="404.2" stroke="#444" stroke-width="0.6"/>
<line x1="73.9" y1="395.5" x2="75.2" y2="395.5" stroke="#444" stroke-width="0.6"/>
<line x1="142.2" y1="402.9" x2="142.2" y2="404.2" stroke="#444" stroke-width="0.6"/>
<line x1="73.9" y1="397.5" x2="75.2" y2="397.5" stroke="#444" stroke-width="0.6"/>
<line x1="144.2" y1="402.9" x2="144.2" y2="404.2" stroke="#444" stroke-width="0.6"/>
<line x1="73.9" y1="399.5" x2="75.2" y2="399.5" stroke="#444" stroke-width="0.6"/>
<line x1="146.2" y1="402.9" x2="146.2" y2="404.2" stroke="#444" stroke-width="0.6"/>
<line x1="73.9" y1="401.5" x2="75.2" y2="401.5" stroke="#444" stroke-width="0.6"/>
<line x1="148.2" y1="402.9" x2="148.2" y2="404.2" stroke="#444" stroke-width="0.6"/>
<line x1="73.9" y1="403.5" x2="75.2" y2="403.5" stroke="#444" stroke-width="0.6"/>
<line x1="150.2" y1="402.9" x2="150.2" y2="404.2" stroke="#444" stroke-width="0.6"/>
<text x="76.4" y="343.2" font-size="15.6">4.1</text>
<text x="149.10000000000002" y="399.3" font-size="16" text-anchor="end">9.2</text>
<clipPath id="c2"><rect x="171.9" y="327.5" width="76.69999999999999" height="75.39999999999998"/></clipPath>
<g clip-path="url(#c2)">
<path d="M196.0,380.6Q195.8,383.8 195.8,386.9Q195.9,390.0 196.1,392.1Q196.2,394.2 195.2,395.1Q194.2,395.9 194.0,397.8Q193.8,399.6 192.4,399.6Q191.1,399.6 189.7,399.7Q188.4,399.8 186.2,400.5Q184.1,401.2 181.9,400.7Q179.7,400.2 178.6,399.6Q177.4,398.9 176.3,398.6Q175.2,398.2 174.4,397.4Q173.5,396.6 173.2,395.0Q172.9,393.4 172.0,392.0Q171.0,390.6 171.5,387.2Q171.9,383.8 171.6,380.5Q171.3,377.1 172.0,375.5Q172.6,374.0 173.4,372.9Q174.1,371.8 174.5,370.4Q175.0,369.0 175.8,368.0Q176.7,366.9 178.1,366.7Q179.5,366.5 181.8,366.2Q184.1,365.8 186.3,366.7Q188.4,367.5 189.7,367.9Q190.9,368.3 191.8,369.0Q192.8,369.7 193.8,370.4Q194.8,371.0 195.7,372.1Q196.5,373.1 196.4,375.3Q196.3,377.5 196.0,380.6Z" fill="none" stroke="#1c1c1c" stroke-width="0.8"/>
<path d="M194.3,380.9Q193.9,383.7 194.1,386.3Q194.2,388.9 193.7,390.3Q193.1,391.6 192.9,393.0Q192.7,394.3 192.3,395.7Q192.0,397.1 191.0,397.7Q190.1,398.3 188.8,398.5Q187.6,398.6 185.7,399.1Q183.7,399.6 181.8,399.1Q179.9,398.6 178.5,398.6Q177.2,398.7 176.5,397.7Q175.7,396.8 175.4,395.4Q175.0,394.1 174.2,393.2Q173.4,392.4 173.2,390.7Q173.0,389.1 172.9,386.4Q172.7,383.7 173.1,381.1Q173.5,378.5 173.3,376.7Q173.2,374.8 174.1,374.0Q175.0,373.2 175.5,372.2Q176.1,371.2 177.0,370.7Q177.8,370.1 178.9,369.7Q180.0,369.3 181.9,369.2Q183.7,369.2 185.8,368.7Q187.8,368.1 188.9,368.6Q190.1,369.1 190.5,370.4Q191.0,371.8 192.1,372.2Q193.1,372.5 193.2,374.1Q193.2,375.7 194.0,376.9Q194.7,378.2 194.3,380.9Z" fill="none" stroke="#1c1c1c" stroke-width="0.8"/>
<path d="M192.8,381.5Q193.5,383.6 193.3,385.9Q193.1,388.3 192.7,389.6Q192.2,390.9 191.7,391.8Q191.1,392.7 190.8,393.9Q190.5,395.1 189.8,396.0Q189.1,396.9 187.9,396.8Q186.7,396.6 185.1,397.1Q183.4,397.7 181.9,396.7Q180.4,395.8 179.3,395.9Q178.1,396.1 177.5,395.2Q176.9,394.3 176.1,393.7Q175.4,393.1 174.9,392.1Q174.3,391.1 173.9,389.8Q173.5,388.4 173.6,386.0Q173.8,383.6 173.6,381.2Q173.4,378.8 174.1,377.6Q174.8,376.4 175.3,375.5Q175.8,374.6 176.2,373.5Q176.6,372.4 177.3,371.6Q178.0,370.8 179.0,370.4Q180.0,370.0 181.7,370.6Q183.4,371.2 185.0,371.1Q186.6,371.0 187.6,371.3Q188.5,371.7 189.4,372.1Q190.3,372.4 191.1,373.0Q192.0,373.5 192.0,375.0Q192.0,376.5 192.1,377.9Q192.2,379.4 192.8,381.5Z" fill="none" stroke="#1c1c1c" stroke-width="0.8"/>
<path d="M191.4,381.5Q191.0,383.5 191.4,385.5Q191.9,387.5 191.5,388.7Q191.1,389.9 190.5,390.6Q189.8,391.3 189.6,392.5Q189.3,393.6 188.6,394.0Q187.8,394.4 186.9,395.0Q186.1,395.5 184.6,395.4Q183.2,395.4 181.7,395.3Q180.3,395.3 179.4,395.0Q178.4,394.8 177.9,393.9Q177.4,393.0 177.0,392.1Q176.6,391.2 175.8,390.7Q174.9,390.2 175.2,388.6Q175.4,387.1 175.1,385.3Q174.7,383.5 174.5,381.5Q174.3,379.4 174.9,378.4Q175.6,377.4 176.0,376.5Q176.4,375.6 176.9,374.8Q177.4,374.0 178.1,373.6Q178.9,373.3 179.6,372.4Q180.3,371.6 181.7,371.9Q183.2,372.3 184.5,372.6Q185.7,372.9 186.7,372.7Q187.8,372.6 188.3,373.4Q188.9,374.2 189.3,375.0Q189.8,375.7 190.1,376.7Q190.3,377.7 191.1,378.6Q191.9,379.5 191.4,381.5Z" fill="none" stroke="#1c1c1c" stroke-width="0.8"/>
<path d="M190.1,381.8Q190.0,383.4 189.8,384.9Q189.5,386.4 189.6,387.6Q189.7,388.8 189.1,389.4Q188.5,390.0 188.2,390.8Q187.9,391.7 187.3,392.0Q186.6,392.4 185.9,393.0Q185.3,393.5 184.1,393.2Q182.9,392.9 181.7,393.4Q180.5,394.0 179.9,393.0Q179.4,392.0 178.8,391.6Q178.2,391.1 177.5,390.8Q176.8,390.6 176.2,389.8Q175.7,389.1 175.6,387.9Q175.4,386.8 175.4,385.1Q175.3,383.4 175.8,381.9Q176.2,380.5 176.4,379.5Q176.6,378.4 176.8,377.6Q177.1,376.7 177.6,376.1Q178.1,375.5 178.7,375.1Q179.3,374.7 180.0,374.3Q180.7,374.0 181.8,373.8Q182.9,373.6 184.0,373.8Q185.1,373.9 186.0,373.8Q186.9,373.8 187.6,374.2Q188.2,374.7 188.4,375.8Q188.5,376.9 189.1,377.5Q189.6,378.2 189.9,379.2Q190.3,380.2 190.1,381.8Z" fill="none" stroke="#1c1c1c" stroke-width="0.8"/>
<path d="M188.7,382.1Q188.7,383.4 188.8,384.7Q188.9,386.0 188.6,386.8Q188.3,387.7 188.0,388.4Q187.7,389.1 187.4,389.9Q187.1,390.6 186.4,390.7Q185.7,390.7 185.1,391.5Q184.6,392.2 183.6,392.0Q182.7,391.8 181.8,391.4Q180.9,391.1 180.2,391.2Q179.4,391.4 179.0,390.7Q178.7,389.9 178.0,389.7Q177.3,389.5 177.1,388.7Q176.9,387.8 176.9,386.8Q177.0,385.8 176.5,384.6Q176.1,383.4 176.5,382.1Q176.8,380.9 176.7,379.8Q176.6,378.7 177.3,378.4Q178.0,378.1 178.3,377.4Q178.6,376.7 179.0,376.1Q179.5,375.5 180.2,375.5Q180.9,375.4 181.8,375.3Q182.7,375.2 183.5,375.4Q184.4,375.7 185.1,375.6Q185.8,375.5 186.5,375.8Q187.1,376.1 187.3,376.9Q187.5,377.8 188.0,378.4Q188.4,378.9 188.6,379.9Q188.7,380.8 188.7,382.1Z" fill="none" stroke="#1c1c1c" stroke-width="0.8"/>
<path d="M187.2,382.3Q187.0,383.3 187.1,384.2Q187.2,385.2 187.2,386.0Q187.2,386.8 187.0,387.5Q186.7,388.2 186.4,388.7Q186.0,389.2 185.6,389.6Q185.1,390.0 184.4,389.8Q183.8,389.6 183.1,389.8Q182.4,389.9 181.7,389.9Q181.0,390.0 180.4,389.9Q179.9,389.7 179.5,389.1Q179.2,388.6 178.7,388.3Q178.2,388.1 178.1,387.3Q178.0,386.6 177.7,385.9Q177.4,385.3 177.3,384.3Q177.3,383.3 177.5,382.3Q177.7,381.4 177.8,380.6Q177.9,379.9 178.0,379.2Q178.2,378.5 178.6,378.1Q179.0,377.7 179.5,377.4Q180.0,377.2 180.4,376.7Q180.9,376.1 181.6,376.4Q182.4,376.6 183.1,376.7Q183.8,376.8 184.3,377.1Q184.8,377.4 185.4,377.4Q186.0,377.3 186.3,377.9Q186.6,378.5 186.9,379.1Q187.1,379.8 187.2,380.5Q187.3,381.3 187.2,382.3Z" fill="none" stroke="#1c1c1c" stroke-width="0.8"/>
<path d="M186.0,382.5Q186.1,383.2 186.2,384.0Q186.2,384.7 186.1,385.3Q186.0,385.9 185.6,386.3Q185.2,386.6 184.9,386.9Q184.7,387.3 184.4,387.8Q184.1,388.2 183.7,388.3Q183.2,388.3 182.7,388.5Q182.2,388.7 181.6,388.7Q181.0,388.7 180.7,388.2Q180.4,387.7 180.0,387.6Q179.6,387.4 179.4,387.0Q179.1,386.6 178.9,386.1Q178.7,385.7 178.4,385.2Q178.0,384.8 178.2,384.0Q178.4,383.2 178.4,382.5Q178.4,381.8 178.6,381.3Q178.7,380.8 179.0,380.3Q179.2,379.9 179.4,379.5Q179.7,379.2 180.1,378.9Q180.4,378.7 180.7,378.2Q181.1,377.7 181.6,377.7Q182.2,377.7 182.7,377.9Q183.2,378.1 183.7,378.1Q184.2,378.1 184.6,378.4Q185.0,378.6 185.1,379.2Q185.3,379.8 185.6,380.2Q185.9,380.6 185.9,381.2Q185.8,381.8 186.0,382.5Z" fill="none" stroke="#1c1c1c" stroke-width="0.8"/>
<path d="M184.9,382.6Q184.8,383.1 184.8,383.7Q184.9,384.2 184.7,384.5Q184.4,384.8 184.4,385.3Q184.4,385.8 184.1,385.9Q183.8,386.1 183.6,386.4Q183.3,386.7 183.0,386.9Q182.7,387.1 182.3,387.0Q181.9,386.9 181.6,386.9Q181.2,387.0 180.8,387.0Q180.5,386.9 180.2,386.6Q180.0,386.3 179.8,385.9Q179.7,385.6 179.6,385.2Q179.4,384.9 179.1,384.5Q178.9,384.2 179.0,383.7Q179.1,383.1 179.0,382.6Q178.9,382.1 179.1,381.7Q179.3,381.3 179.5,381.0Q179.7,380.8 179.9,380.4Q180.1,380.1 180.3,379.9Q180.6,379.7 180.9,379.5Q181.2,379.3 181.6,379.4Q181.9,379.4 182.3,379.4Q182.7,379.3 183.0,379.5Q183.3,379.6 183.6,379.9Q183.8,380.2 184.1,380.3Q184.4,380.5 184.5,380.9Q184.6,381.3 184.8,381.7Q185.0,382.1 184.9,382.6Z" fill="none" stroke="#1c1c1c" stroke-width="0.8"/>
<path d="M183.7,382.8Q183.6,383.1 183.5,383.3Q183.4,383.6 183.5,383.9Q183.6,384.2 183.4,384.4Q183.2,384.6 183.1,384.8Q183.0,385.0 182.8,385.1Q182.5,385.2 182.4,385.3Q182.2,385.4 181.9,385.5Q181.7,385.6 181.5,385.6Q181.2,385.6 181.1,385.4Q180.9,385.2 180.7,385.0Q180.6,384.9 180.4,384.7Q180.3,384.5 180.2,384.3Q180.0,384.2 180.0,383.9Q179.9,383.6 179.9,383.3Q180.0,383.1 180.0,382.8Q180.0,382.5 180.0,382.2Q180.0,382.0 180.1,381.7Q180.2,381.5 180.3,381.3Q180.5,381.1 180.7,380.9Q180.8,380.8 181.1,380.8Q181.3,380.8 181.5,380.8Q181.7,380.8 182.0,380.7Q182.2,380.6 182.4,380.7Q182.6,380.8 182.8,381.0Q183.0,381.1 183.0,381.4Q183.1,381.6 183.2,381.8Q183.3,382.0 183.5,382.3Q183.7,382.5 183.7,382.8Z" fill="none" stroke="#1c1c1c" stroke-width="0.8"/>
<path d="M182.3,382.9Q182.4,383.0 182.4,383.1Q182.4,383.2 182.4,383.3Q182.3,383.4 182.3,383.5Q182.2,383.6 182.1,383.7Q182.0,383.7 181.9,383.8Q181.9,383.8 181.8,383.9Q181.7,383.9 181.6,383.9Q181.5,383.9 181.4,383.9Q181.3,383.9 181.2,383.9Q181.1,383.9 181.0,383.8Q180.9,383.8 180.8,383.7Q180.8,383.7 180.7,383.5Q180.7,383.4 180.7,383.3Q180.7,383.2 180.7,383.1Q180.7,383.0 180.6,382.9Q180.6,382.8 180.7,382.7Q180.7,382.6 180.8,382.5Q180.8,382.3 180.8,382.3Q180.9,382.2 181.0,382.1Q181.1,382.0 181.2,382.0Q181.3,382.1 181.4,382.0Q181.5,381.9 181.6,382.0Q181.7,382.1 181.8,382.1Q181.9,382.1 182.0,382.1Q182.1,382.2 182.1,382.3Q182.2,382.4 182.2,382.5Q182.3,382.6 182.3,382.7Q182.3,382.8 182.3,382.9Z" fill="none" stroke="#1c1c1c" stroke-width="0.8"/>
<rect x="171.9" y="370" width="1.9" height="29" fill="#222"/>
<ellipse cx="180.5" cy="383.0" rx="5.2" ry="5.6" fill="#555" opacity="0.35"/>
<ellipse cx="179.5" cy="382.0" rx="2.6" ry="3" fill="#333" opacity="0.4"/>
<path d="M213.0,375.6Q215.1,374.2 217.2,375.6Q219.3,376.9 219.8,379.3Q220.3,381.8 219.8,384.8Q219.3,387.8 218.3,390.5Q217.4,393.2 217.4,395.3Q217.4,397.5 217.7,399.0Q218.0,400.5 217.4,400.9Q216.8,401.3 215.1,401.3Q213.4,401.3 212.8,400.9Q212.2,400.5 212.5,399.0Q212.8,397.5 212.8,395.3Q212.8,393.2 211.9,390.5Q210.9,387.8 210.4,384.8Q209.9,381.8 210.4,379.3Q210.9,376.9 213.0,375.6Z" fill="none" stroke="#1c1c1c" stroke-width="0.8"/>
<path d="M218.3,382.9Q218.3,384.0 218.2,385.0Q218.1,386.0 218.1,386.8Q218.0,387.7 217.9,388.6Q217.8,389.4 217.5,390.0Q217.2,390.6 216.9,390.8Q216.6,391.1 216.3,391.7Q216.0,392.2 215.5,392.3Q215.1,392.4 214.7,392.0Q214.3,391.5 213.9,391.5Q213.6,391.5 213.3,390.9Q213.0,390.4 212.8,389.7Q212.6,389.0 212.4,388.4Q212.2,387.7 212.1,386.9Q211.9,386.1 212.0,385.0Q212.0,384.0 212.0,382.9Q212.0,381.9 212.1,381.0Q212.1,380.1 212.4,379.4Q212.6,378.8 212.8,378.0Q212.9,377.2 213.3,376.9Q213.6,376.5 213.9,376.2Q214.3,375.9 214.7,376.1Q215.1,376.2 215.5,376.3Q215.9,376.4 216.3,376.4Q216.6,376.5 216.9,377.1Q217.1,377.7 217.4,378.2Q217.7,378.7 217.9,379.3Q218.1,380.0 218.2,380.9Q218.3,381.9 218.3,382.9Z" fill="none" stroke="#1c1c1c" stroke-width="0.8"/>
<path d="M216.6,382.6Q216.6,383.1 216.6,383.7Q216.6,384.3 216.6,384.8Q216.6,385.4 216.4,385.7Q216.3,386.1 216.2,386.5Q216.1,386.9 216.0,387.1Q215.8,387.3 215.7,387.5Q215.5,387.8 215.3,387.8Q215.1,387.8 214.9,387.8Q214.7,387.9 214.5,387.6Q214.4,387.3 214.2,387.0Q214.1,386.8 214.0,386.5Q213.9,386.1 213.8,385.7Q213.6,385.4 213.6,384.8Q213.6,384.3 213.6,383.7Q213.6,383.1 213.6,382.6Q213.6,382.0 213.7,381.5Q213.7,381.1 213.8,380.7Q213.9,380.3 214.0,379.9Q214.1,379.6 214.3,379.3Q214.4,379.1 214.5,378.8Q214.7,378.5 214.9,378.6Q215.1,378.7 215.3,378.6Q215.5,378.5 215.7,378.8Q215.8,379.1 216.0,379.3Q216.1,379.5 216.2,379.9Q216.3,380.3 216.4,380.6Q216.6,380.9 216.6,381.5Q216.6,382.0 216.6,382.6Z" fill="none" stroke="#1c1c1c" stroke-width="0.8"/>
<path d="M219.5,382.7Q219.5,384.0 219.4,385.2Q219.4,386.5 219.1,387.4Q218.8,388.4 218.7,389.5Q218.6,390.6 218.3,391.3Q218.0,392.0 217.6,392.6Q217.2,393.1 216.7,393.4Q216.2,393.7 215.7,393.9Q215.1,394.2 214.5,394.0Q214.0,393.8 213.5,393.5Q213.0,393.2 212.7,392.4Q212.3,391.7 212.1,390.9Q211.8,390.0 211.4,389.4Q211.0,388.7 210.9,387.6Q210.8,386.5 210.7,385.2Q210.6,384.0 210.7,382.7Q210.8,381.4 210.9,380.3Q211.0,379.2 211.3,378.3Q211.6,377.5 212.0,377.0Q212.4,376.5 212.7,375.7Q213.1,374.9 213.5,374.7Q214.0,374.5 214.6,374.2Q215.1,373.9 215.6,374.4Q216.1,374.8 216.6,374.9Q217.1,375.0 217.5,375.7Q217.8,376.4 218.1,377.1Q218.4,377.9 218.7,378.6Q219.0,379.3 219.2,380.4Q219.4,381.4 219.5,382.7Z" fill="none" stroke="#1c1c1c" stroke-width="0.8"/>
<path d="M174.4,359.0Q173.4,357.6 174.7,356.5Q176.0,355.4 177.8,355.8Q179.5,356.2 181.2,355.9Q183.0,355.6 184.8,356.4Q186.6,357.2 186.5,358.4Q186.4,359.6 184.7,360.2Q183.0,360.8 181.0,360.5Q179.0,360.2 177.2,360.3Q175.5,360.4 174.4,359.0Z" fill="none" stroke="#1c1c1c" stroke-width="0.8"/>
</g>
<rect x="171.9" y="327.5" width="76.69999999999999" height="75.39999999999998" fill="none" stroke="#3a3a3a" stroke-width="0.9"/>
<line x1="202" y1="327.5" x2="202" y2="402.9" stroke="#000" stroke-width="1.3"/>
<line x1="171.9" y1="364.1" x2="248.6" y2="364.1" stroke="#000" stroke-width="1.3"/>
<rect x="173.1" y="328.7" width="6.5" height="3.4" fill="#fff" stroke="#999" stroke-width="0.6"/>
<rect x="173.9" y="399.29999999999995" width="6.5" height="3" fill="#fff" stroke="#999" stroke-width="0.6"/>
<rect x="240.6" y="397.9" width="6.5" height="3" fill="#fff" stroke="#999" stroke-width="0.6"/>
<line x1="170.6" y1="329.5" x2="171.9" y2="329.5" stroke="#444" stroke-width="0.6"/>
<line x1="172.9" y1="402.9" x2="172.9" y2="404.2" stroke="#444" stroke-width="0.6"/>
<line x1="170.6" y1="331.5" x2="171.9" y2="331.5" stroke="#444" stroke-width="0.6"/>
<line x1="174.9" y1="402.9" x2="174.9" y2="404.2" stroke="#444" stroke-width="0.6"/>
<line x1="170.6" y1="333.5" x2="171.9" y2="333.5" stroke="#444" stroke-width="0.6"/>
<line x1="176.9" y1="402.9" x2="176.9" y2="404.2" stroke="#444" stroke-width="0.6"/>
<line x1="170.6" y1="335.5" x2="171.9" y2="335.5" stroke="#444" stroke-width="0.6"/>
<line x1="178.9" y1="402.9" x2="178.9" y2="404.2" stroke="#444" stroke-width="0.6"/>
<line x1="170.6" y1="337.5" x2="171.9" y2="337.5" stroke="#444" stroke-width="0.6"/>
<line x1="180.9" y1="402.9" x2="180.9" y2="404.2" stroke="#444" stroke-width="0.6"/>
<line x1="170.6" y1="339.5" x2="171.9" y2="339.5" stroke="#444" stroke-width="0.6"/>
<line x1="182.9" y1="402.9" x2="182.9" y2="404.2" stroke="#444" stroke-width="0.6"/>
<line x1="170.6" y1="341.5" x2="171.9" y2="341.5" stroke="#444" stroke-width="0.6"/>
<line x1="184.9" y1="402.9" x2="184.9" y2="404.2" stroke="#444" stroke-width="0.6"/>
<line x1="170.6" y1="343.5" x2="171.9" y2="343.5" stroke="#444" stroke-width="0.6"/>
<line x1="186.9" y1="402.9" x2="186.9" y2="404.2" stroke="#444" stroke-width="0.6"/>
<line x1="170.6" y1="345.5" x2="171.9" y2="345.5" stroke="#444" stroke-width="0.6"/>
<line x1="188.9" y1="402.9" x2="188.9" y2="404.2" stroke="#444" stroke-width="0.6"/>
<line x1="170.6" y1="347.5" x2="171.9" y2="347.5" stroke="#444" stroke-width="0.6"/>
<line x1="190.9" y1="402.9" x2="190.9" y2="404.2" stroke="#444" stroke-width="0.6"/>
<line x1="170.6" y1="349.5" x2="171.9" y2="349.5" stroke="#444" stroke-width="0.6"/>
<line x1="192.9" y1="402.9" x2="192.9" y2="404.2" stroke="#444" stroke-width="0.6"/>
<line x1="170.6" y1="351.5" x2="171.9" y2="351.5" stroke="#444" stroke-width="0.6"/>
<line x1="194.9" y1="402.9" x2="194.9" y2="404.2" stroke="#444" stroke-width="0.6"/>
<line x1="170.6" y1="353.5" x2="171.9" y2="353.5" stroke="#444" stroke-width="0.6"/>
<line x1="196.9" y1="402.9" x2="196.9" y2="404.2" stroke="#444" stroke-width="0.6"/>
<line x1="170.6" y1="355.5" x2="171.9" y2="355.5" stroke="#444" stroke-width="0.6"/>
<line x1="198.9" y1="402.9" x2="198.9" y2="404.2" stroke="#444" stroke-width="0.6"/>
<line x1="170.6" y1="357.5" x2="171.9" y2="357.5" stroke="#444" stroke-width="0.6"/>
<line x1="200.9" y1="402.9" x2="200.9" y2="404.2" stroke="#444" stroke-width="0.6"/>
<line x1="170.6" y1="359.5" x2="171.9" y2="359.5" stroke="#444" stroke-width="0.6"/>
<line x1="202.9" y1="402.9" x2="202.9" y2="404.2" stroke="#444" stroke-width="0.6"/>
<line x1="170.6" y1="361.5" x2="171.9" y2="361.5" stroke="#444" stroke-width="0.6"/>
<line x1="204.9" y1="402.9" x2="204.9" y2="404.2" stroke="#444" stroke-width="0.6"/>
<line x1="170.6" y1="363.5" x2="171.9" y2="363.5" stroke="#444" stroke-width="0.6"/>
<line x1="206.9" y1="402.9" x2="206.9" y2="404.2" stroke="#444" stroke-width="0.6"/>
<line x1="170.6" y1="365.5" x2="171.9" y2="365.5" stroke="#444" stroke-width="0.6"/>
<line x1="208.9" y1="402.9" x2="208.9" y2="404.2" stroke="#444" stroke-width="0.6"/>
<line x1="170.6" y1="367.5" x2="171.9" y2="367.5" stroke="#444" stroke-width="0.6"/>
<line x1="210.9" y1="402.9" x2="210.9" y2="404.2" stroke="#444" stroke-width="0.6"/>
<line x1="170.6" y1="369.5" x2="171.9" y2="369.5" stroke="#444" stroke-width="0.6"/>
<line x1="212.9" y1="402.9" x2="212.9" y2="404.2" stroke="#444" stroke-width="0.6"/>
<line x1="170.6" y1="371.5" x2="171.9" y2="371.5" stroke="#444" stroke-width="0.6"/>
<line x1="214.9" y1="402.9" x2="214.9" y2="404.2" stroke="#444" stroke-width="0.6"/>
<line x1="170.6" y1="373.5" x2="171.9" y2="373.5" stroke="#444" stroke-width="0.6"/>
<line x1="216.9" y1="402.9" x2="216.9" y2="404.2" stroke="#444" stroke-width="0.6"/>
<line x1="170.6" y1="375.5" x2="171.9" y2="375.5" stroke="#444" stroke-width="0.6"/>
<line x1="218.9" y1="402.9" x2="218.9" y2="404.2" stroke="#444" stroke-width="0.6"/>
<line x1="170.6" y1="377.5" x2="171.9" y2="377.5" stroke="#444" stroke-width="0.6"/>
<line x1="220.9" y1="402.9" x2="220.9" y2="404.2" stroke="#444" stroke-width="0.6"/>
<line x1="170.6" y1="379.5" x2="171.9" y2="379.5" stroke="#444" stroke-width="0.6"/>
<line x1="222.9" y1="402.9" x2="222.9" y2="404.2" stroke="#444" stroke-width="0.6"/>
<line x1="170.6" y1="381.5" x2="171.9" y2="381.5" stroke="#444" stroke-width="0.6"/>
<line x1="224.9" y1="402.9" x2="224.9" y2="404.2" stroke="#444" stroke-width="0.6"/>
<line x1="170.6" y1="383.5" x2="171.9" y2="383.5" stroke="#444" stroke-width="0.6"/>
<line x1="226.9" y1="402.9" x2="226.9" y2="404.2" stroke="#444" stroke-width="0.6"/>
<line x1="170.6" y1="385.5" x2="171.9" y2="385.5" stroke="#444" stroke-width="0.6"/>
<line x1="228.9" y1="402.9" x2="228.9" y2="404.2" stroke="#444" stroke-width="0.6"/>
<line x1="170.6" y1="387.5" x2="171.9" y2="387.5" stroke="#444" stroke-width="0.6"/>
<line x1="230.9" y1="402.9" x2="230.9" y2="404.2" stroke="#444" stroke-width="0.6"/>
<line x1="170.6" y1="389.5" x2="171.9" y2="389.5" stroke="#444" stroke-width="0.6"/>
<line x1="232.9" y1="402.9" x2="232.9" y2="404.2" stroke="#444" stroke-width="0.6"/>
<line x1="170.6" y1="391.5" x2="171.9" y2="391.5" stroke="#444" stroke-width="0.6"/>
<line x1="234.9" y1="402.9" x2="234.9" y2="404.2" stroke="#444" stroke-width="0.6"/>
<line x1="170.6" y1="393.5" x2="171.9" y2="393.5" stroke="#444" stroke-width="0.6"/>
<line x1="236.9" y1="402.9" x2="236.9" y2="404.2" stroke="#444" stroke-width="0.6"/>
<line x1="170.6" y1="395.5" x2="171.9" y2="395.5" stroke="#444" stroke-width="0.6"/>
<line x1="238.9" y1="402.9" x2="238.9" y2="404.2" stroke="#444" stroke-width="0.6"/>
<line x1="170.6" y1="397.5" x2="171.9" y2="397.5" stroke="#444" stroke-width="0.6"/>
<line x1="240.9" y1="402.9" x2="240.9" y2="404.2" stroke="#444" stroke-width="0.6"/>
<line x1="170.6" y1="399.5" x2="171.9" y2="399.5" stroke="#444" stroke-width="0.6"/>
<line x1="242.9" y1="402.9" x2="242.9" y2="404.2" stroke="#444" stroke-width="0.6"/>
<line x1="170.6" y1="401.5" x2="171.9" y2="401.5" stroke="#444" stroke-width="0.6"/>
<line x1="244.9" y1="402.9" x2="244.9" y2="404.2" stroke="#444" stroke-width="0.6"/>
<line x1="170.6" y1="403.5" x2="171.9" y2="403.5" stroke="#444" stroke-width="0.6"/>
<line x1="246.9" y1="402.9" x2="246.9" y2="404.2" stroke="#444" stroke-width="0.6"/>
<text x="173.1" y="343.2" font-size="15.6">3.9</text>
<text x="245.2" y="399.3" font-size="15.6" text-anchor="end">12</text>
<clipPath id="c3"><rect x="268.5" y="327.5" width="76.69999999999999" height="75.39999999999998"/></clipPath>
<g clip-path="url(#c3)">
<path d="M293.6,380.4Q293.5,383.8 293.1,387.0Q292.8,390.1 292.1,391.6Q291.5,393.1 291.3,394.7Q291.1,396.3 290.8,397.9Q290.4,399.5 289.1,399.8Q287.8,400.0 286.6,400.7Q285.4,401.3 283.0,400.9Q280.7,400.4 278.4,400.7Q276.1,400.9 274.9,400.4Q273.6,399.9 272.8,398.9Q272.0,397.9 271.2,397.0Q270.4,396.1 270.1,394.7Q269.7,393.2 268.6,391.9Q267.6,390.6 267.8,387.2Q268.1,383.8 268.2,380.6Q268.3,377.3 268.4,375.3Q268.4,373.3 269.1,371.9Q269.7,370.6 270.7,370.0Q271.8,369.3 272.4,367.9Q273.0,366.4 274.5,366.4Q276.0,366.3 278.4,365.6Q280.7,364.9 282.9,366.0Q285.2,367.1 286.5,367.4Q287.7,367.8 288.5,368.8Q289.3,369.9 290.6,370.1Q291.9,370.3 292.3,371.9Q292.7,373.5 293.2,375.3Q293.7,377.0 293.6,380.4Z" fill="none" stroke="#1c1c1c" stroke-width="0.8"/>
<path d="M290.6,381.0Q291.0,383.5 291.2,386.4Q291.5,389.2 290.9,390.7Q290.4,392.1 289.9,393.3Q289.4,394.5 288.6,395.2Q287.8,395.9 287.2,397.0Q286.5,398.1 285.2,398.0Q284.0,397.9 282.1,398.9Q280.2,400.0 278.4,398.9Q276.5,397.9 275.1,398.4Q273.6,398.8 273.2,397.2Q272.8,395.6 271.9,395.0Q271.1,394.5 270.5,393.3Q269.9,392.2 269.3,390.8Q268.7,389.3 268.7,386.4Q268.7,383.5 269.2,380.9Q269.8,378.3 269.8,376.5Q269.8,374.8 270.1,373.3Q270.5,371.9 271.6,371.6Q272.7,371.3 273.2,370.0Q273.8,368.6 274.9,368.2Q276.1,367.8 278.2,367.5Q280.2,367.2 282.1,368.2Q283.9,369.2 285.3,369.0Q286.6,368.8 287.3,369.8Q288.1,370.8 289.1,371.2Q290.1,371.7 290.5,373.2Q290.8,374.6 290.5,376.6Q290.1,378.6 290.6,381.0Z" fill="none" stroke="#1c1c1c" stroke-width="0.8"/>
<path d="M289.8,381.0Q290.2,383.3 289.8,385.6Q289.3,387.9 289.1,389.4Q288.8,390.8 288.4,391.8Q287.9,392.8 287.1,393.4Q286.4,394.0 285.5,394.4Q284.7,394.8 283.9,395.5Q283.1,396.3 281.5,396.5Q279.8,396.7 278.1,396.9Q276.4,397.1 275.5,396.2Q274.7,395.4 273.6,395.4Q272.5,395.4 272.4,393.8Q272.3,392.3 271.5,391.6Q270.7,390.9 270.9,389.2Q271.1,387.6 270.9,385.5Q270.6,383.3 270.8,381.2Q270.9,379.0 270.6,377.2Q270.2,375.4 270.9,374.5Q271.5,373.5 272.2,372.8Q272.9,372.0 273.6,371.1Q274.2,370.2 275.3,369.7Q276.3,369.3 278.1,369.7Q279.8,370.2 281.6,369.8Q283.3,369.4 284.1,370.4Q285.0,371.3 285.9,371.6Q286.9,371.8 287.6,372.5Q288.3,373.3 288.5,374.7Q288.6,376.1 289.1,377.4Q289.5,378.7 289.8,381.0Z" fill="none" stroke="#1c1c1c" stroke-width="0.8"/>
<path d="M287.7,381.2Q287.2,383.2 287.8,385.2Q288.3,387.3 287.6,388.2Q286.9,389.1 286.9,390.6Q287.0,392.0 286.4,392.8Q285.8,393.5 284.8,393.5Q283.8,393.5 283.0,394.1Q282.2,394.6 280.9,394.6Q279.5,394.6 278.1,394.5Q276.8,394.4 275.8,394.4Q274.7,394.4 274.0,393.9Q273.3,393.4 273.0,392.2Q272.8,391.0 272.2,390.2Q271.7,389.5 271.3,388.3Q271.0,387.1 271.0,385.1Q271.0,383.2 271.3,381.4Q271.7,379.6 271.8,378.3Q271.8,377.0 272.2,376.0Q272.5,375.0 272.8,373.9Q273.2,372.8 273.9,372.3Q274.7,371.8 275.7,371.6Q276.6,371.4 278.1,371.7Q279.5,371.9 281.0,371.4Q282.4,370.9 283.1,371.9Q283.8,372.9 284.5,373.3Q285.2,373.7 285.7,374.6Q286.1,375.4 286.7,376.1Q287.4,376.8 287.7,378.0Q288.1,379.2 287.7,381.2Z" fill="none" stroke="#1c1c1c" stroke-width="0.8"/>
<path d="M286.4,381.3Q285.9,383.0 286.0,384.5Q286.1,386.1 286.2,387.3Q286.2,388.5 285.6,389.2Q285.1,389.9 284.5,390.4Q284.0,390.9 283.5,391.7Q283.0,392.4 282.2,392.4Q281.3,392.5 280.2,392.8Q279.1,393.1 278.1,392.7Q277.0,392.3 276.1,392.5Q275.2,392.6 274.8,391.6Q274.5,390.6 273.9,390.2Q273.4,389.7 272.7,389.1Q272.0,388.6 272.3,387.2Q272.5,385.9 272.3,384.4Q272.0,383.0 272.2,381.5Q272.4,380.0 272.5,378.9Q272.6,377.8 272.8,376.9Q273.1,376.0 273.4,375.0Q273.7,374.1 274.4,373.6Q275.1,373.1 276.0,373.3Q276.9,373.5 278.0,373.0Q279.1,372.6 280.3,372.9Q281.4,373.2 282.1,373.8Q282.7,374.3 283.3,374.7Q284.0,375.0 284.5,375.6Q284.9,376.2 285.3,377.0Q285.7,377.8 286.2,378.7Q286.8,379.6 286.4,381.3Z" fill="none" stroke="#1c1c1c" stroke-width="0.8"/>
<path d="M284.7,381.5Q284.6,382.8 284.7,384.1Q284.9,385.3 284.7,386.3Q284.6,387.2 284.1,387.8Q283.7,388.4 283.2,388.8Q282.8,389.3 282.4,390.1Q282.1,390.9 281.4,391.0Q280.7,391.2 279.7,391.0Q278.8,390.8 277.9,390.9Q277.0,391.1 276.3,390.9Q275.6,390.8 275.0,390.3Q274.5,389.9 274.0,389.4Q273.5,388.8 273.2,388.1Q272.8,387.4 272.7,386.4Q272.7,385.4 272.4,384.1Q272.2,382.8 272.5,381.5Q272.8,380.3 273.1,379.5Q273.4,378.7 273.4,377.7Q273.5,376.7 274.1,376.4Q274.8,376.2 275.3,375.8Q275.9,375.5 276.5,375.3Q277.1,375.1 277.9,374.7Q278.8,374.4 279.8,374.2Q280.8,374.0 281.3,374.7Q281.9,375.3 282.6,375.3Q283.3,375.4 283.7,376.1Q284.1,376.7 284.2,377.7Q284.2,378.7 284.5,379.5Q284.8,380.3 284.7,381.5Z" fill="none" stroke="#1c1c1c" stroke-width="0.8"/>
<path d="M283.4,381.7Q283.5,382.6 283.4,383.6Q283.4,384.6 283.2,385.2Q282.9,385.9 282.8,386.7Q282.8,387.4 282.2,387.7Q281.7,388.0 281.4,388.5Q281.1,389.1 280.5,389.2Q279.9,389.2 279.2,389.4Q278.5,389.7 277.7,389.7Q277.0,389.6 276.6,389.0Q276.2,388.4 275.5,388.5Q274.9,388.6 274.8,387.8Q274.7,386.9 274.1,386.6Q273.6,386.3 273.8,385.4Q273.9,384.5 273.5,383.5Q273.2,382.6 273.4,381.6Q273.5,380.7 273.7,379.9Q273.8,379.2 274.1,378.5Q274.3,377.9 274.6,377.3Q274.9,376.6 275.4,376.5Q276.0,376.4 276.5,376.0Q277.0,375.5 277.7,375.9Q278.5,376.3 279.2,376.2Q279.9,376.2 280.5,376.2Q281.0,376.3 281.5,376.6Q281.9,377.0 282.4,377.4Q282.8,377.8 283.0,378.4Q283.3,379.1 283.3,379.9Q283.2,380.7 283.4,381.7Z" fill="none" stroke="#1c1c1c" stroke-width="0.8"/>
<path d="M282.0,381.8Q282.2,382.5 282.1,383.2Q281.9,383.9 281.9,384.5Q281.9,385.1 281.7,385.6Q281.4,386.0 281.1,386.4Q280.8,386.7 280.4,386.9Q280.0,387.0 279.6,387.3Q279.2,387.6 278.7,387.8Q278.2,387.9 277.7,387.7Q277.2,387.5 276.7,387.3Q276.3,387.2 276.0,386.9Q275.7,386.6 275.3,386.4Q274.9,386.2 274.6,385.7Q274.4,385.2 274.3,384.6Q274.1,384.0 274.0,383.2Q274.0,382.5 274.1,381.7Q274.2,381.0 274.3,380.4Q274.4,379.7 274.8,379.5Q275.2,379.2 275.4,378.7Q275.6,378.3 276.0,378.0Q276.4,377.8 276.8,377.6Q277.2,377.5 277.7,377.3Q278.2,377.2 278.7,377.2Q279.3,377.2 279.7,377.3Q280.2,377.3 280.5,377.8Q280.7,378.3 281.0,378.6Q281.3,379.0 281.7,379.4Q282.0,379.7 281.9,380.4Q281.8,381.1 282.0,381.8Z" fill="none" stroke="#1c1c1c" stroke-width="0.8"/>
<path d="M280.7,381.8Q280.7,382.3 280.8,382.8Q281.0,383.4 280.7,383.7Q280.5,384.1 280.4,384.5Q280.3,384.9 280.0,385.1Q279.7,385.3 279.5,385.5Q279.2,385.8 279.0,386.1Q278.7,386.3 278.3,386.4Q277.9,386.4 277.5,386.4Q277.1,386.3 276.8,386.1Q276.5,385.8 276.3,385.5Q276.1,385.2 275.8,385.0Q275.5,384.9 275.5,384.4Q275.4,384.0 275.3,383.6Q275.2,383.2 275.2,382.8Q275.1,382.3 275.0,381.8Q275.0,381.3 275.1,380.9Q275.2,380.4 275.4,380.1Q275.6,379.8 275.8,379.5Q276.0,379.2 276.2,379.0Q276.5,378.8 276.8,378.6Q277.1,378.3 277.5,378.4Q277.9,378.5 278.3,378.5Q278.6,378.5 278.9,378.7Q279.2,378.9 279.5,379.1Q279.8,379.3 280.0,379.5Q280.3,379.7 280.4,380.1Q280.5,380.5 280.6,380.9Q280.6,381.4 280.7,381.8Z" fill="none" stroke="#1c1c1c" stroke-width="0.8"/>
<path d="M279.3,381.9Q279.4,382.2 279.3,382.4Q279.3,382.7 279.3,382.9Q279.2,383.2 279.2,383.5Q279.2,383.8 279.0,383.9Q278.7,384.0 278.6,384.2Q278.5,384.4 278.3,384.5Q278.1,384.6 277.8,384.6Q277.6,384.6 277.4,384.5Q277.2,384.4 276.9,384.4Q276.7,384.5 276.5,384.3Q276.3,384.2 276.2,383.9Q276.1,383.7 276.0,383.5Q275.9,383.3 275.9,383.0Q275.8,382.7 275.7,382.4Q275.6,382.2 275.7,381.9Q275.7,381.6 275.9,381.4Q276.0,381.1 276.0,380.8Q276.0,380.5 276.2,380.4Q276.4,380.2 276.6,380.2Q276.8,380.1 277.0,380.0Q277.2,380.0 277.4,379.9Q277.6,379.9 277.8,379.8Q278.1,379.6 278.3,379.7Q278.5,379.9 278.7,380.0Q278.9,380.1 279.0,380.4Q279.1,380.6 279.2,380.9Q279.2,381.1 279.3,381.4Q279.3,381.6 279.3,381.9Z" fill="none" stroke="#1c1c1c" stroke-width="0.8"/>
<path d="M278.2,381.9Q278.2,382.0 278.2,382.1Q278.1,382.2 278.1,382.3Q278.1,382.4 278.0,382.5Q278.0,382.6 277.9,382.7Q277.9,382.8 277.8,382.9Q277.7,383.0 277.6,383.0Q277.5,383.0 277.4,383.0Q277.3,383.0 277.2,383.0Q277.1,382.9 277.0,382.9Q276.9,382.9 276.8,382.9Q276.7,382.8 276.6,382.7Q276.6,382.7 276.5,382.5Q276.5,382.4 276.5,382.3Q276.5,382.2 276.5,382.1Q276.5,382.0 276.5,381.9Q276.5,381.8 276.5,381.7Q276.5,381.6 276.6,381.5Q276.6,381.4 276.7,381.3Q276.7,381.2 276.8,381.1Q276.9,381.1 277.0,381.0Q277.1,381.0 277.2,381.0Q277.3,381.0 277.4,381.0Q277.5,381.0 277.6,381.1Q277.7,381.1 277.8,381.2Q277.9,381.2 277.9,381.3Q278.0,381.4 278.0,381.5Q278.1,381.6 278.1,381.7Q278.2,381.8 278.2,381.9Z" fill="none" stroke="#1c1c1c" stroke-width="0.8"/>
<rect x="268.5" y="370" width="1.9" height="29" fill="#222"/>
<ellipse cx="276.3" cy="382.0" rx="5.2" ry="5.6" fill="#555" opacity="0.35"/>
<ellipse cx="275.3" cy="381.0" rx="2.6" ry="3" fill="#333" opacity="0.4"/>
<path d="M309.6,375.2Q311.6,373.8 313.6,375.2Q315.5,376.6 316.0,379.0Q316.5,381.5 316.0,384.5Q315.5,387.6 314.7,390.3Q313.8,393.1 313.8,395.2Q313.8,397.4 314.1,399.0Q314.5,400.5 313.9,400.9Q313.3,401.3 311.6,401.3Q309.9,401.3 309.3,400.9Q308.7,400.5 309.1,399.0Q309.4,397.4 309.4,395.2Q309.4,393.1 308.5,390.3Q307.7,387.6 307.2,384.5Q306.7,381.5 307.2,379.0Q307.7,376.6 309.6,375.2Z" fill="none" stroke="#1c1c1c" stroke-width="0.8"/>
<path d="M314.6,382.6Q314.5,383.7 314.5,384.7Q314.5,385.8 314.4,386.6Q314.3,387.4 314.1,388.2Q314.0,389.0 313.8,389.8Q313.7,390.6 313.3,390.7Q313.0,390.8 312.7,391.4Q312.4,392.0 312.0,392.1Q311.6,392.1 311.2,391.7Q310.9,391.4 310.6,391.1Q310.2,390.9 309.9,390.6Q309.6,390.3 309.3,389.8Q309.1,389.3 309.0,388.4Q308.9,387.5 308.7,386.7Q308.6,385.9 308.5,384.8Q308.5,383.7 308.5,382.6Q308.5,381.5 308.6,380.6Q308.8,379.8 309.0,379.1Q309.2,378.4 309.4,377.7Q309.6,376.9 309.9,376.5Q310.2,376.1 310.5,375.9Q310.8,375.7 311.2,375.4Q311.6,375.2 312.0,375.4Q312.4,375.7 312.7,375.9Q313.0,376.1 313.3,376.5Q313.6,377.0 313.9,377.5Q314.1,378.1 314.2,379.1Q314.3,380.0 314.5,380.8Q314.7,381.5 314.6,382.6Z" fill="none" stroke="#1c1c1c" stroke-width="0.8"/>
<path d="M313.1,382.3Q313.0,382.9 313.0,383.5Q313.0,384.1 313.0,384.6Q312.9,385.1 312.9,385.5Q312.8,385.9 312.7,386.3Q312.6,386.6 312.4,386.8Q312.3,386.9 312.1,387.1Q312.0,387.3 311.8,387.3Q311.6,387.3 311.4,387.4Q311.2,387.5 311.1,387.3Q310.9,387.1 310.8,386.9Q310.6,386.8 310.5,386.3Q310.4,385.9 310.3,385.5Q310.2,385.1 310.2,384.6Q310.1,384.1 310.1,383.5Q310.2,382.9 310.1,382.3Q310.1,381.6 310.2,381.2Q310.3,380.7 310.3,380.2Q310.4,379.8 310.5,379.4Q310.6,379.0 310.8,378.9Q310.9,378.8 311.1,378.7Q311.2,378.5 311.4,378.3Q311.6,378.0 311.8,378.2Q312.0,378.5 312.1,378.4Q312.3,378.4 312.5,378.7Q312.6,379.0 312.7,379.5Q312.8,379.9 312.9,380.2Q313.0,380.6 313.1,381.1Q313.1,381.6 313.1,382.3Z" fill="none" stroke="#1c1c1c" stroke-width="0.8"/>
<path d="M315.5,382.5Q315.4,383.7 315.4,384.9Q315.4,386.1 315.4,387.3Q315.4,388.6 315.1,389.3Q314.7,390.0 314.4,390.6Q314.1,391.3 313.8,391.8Q313.4,392.3 313.0,392.9Q312.6,393.4 312.1,393.4Q311.6,393.5 311.1,393.5Q310.6,393.6 310.2,393.1Q309.7,392.6 309.4,392.0Q309.1,391.3 308.7,390.8Q308.3,390.3 308.2,389.2Q308.1,388.2 307.9,387.2Q307.6,386.2 307.6,385.0Q307.5,383.7 307.6,382.5Q307.8,381.2 307.9,380.2Q308.1,379.2 308.2,378.3Q308.4,377.3 308.8,376.7Q309.1,376.1 309.4,375.3Q309.7,374.6 310.1,374.3Q310.6,373.9 311.1,373.7Q311.6,373.5 312.1,374.0Q312.6,374.5 313.0,374.6Q313.5,374.7 313.8,375.4Q314.1,376.1 314.5,376.5Q315.0,377.0 315.1,378.0Q315.3,379.0 315.4,380.1Q315.5,381.2 315.5,382.5Z" fill="none" stroke="#1c1c1c" stroke-width="0.8"/>
<path d="M274.1,358.4Q272.8,357.2 274.1,356.1Q275.5,355.0 277.2,354.8Q279.0,354.6 280.8,355.2Q282.5,355.8 283.6,356.6Q284.8,357.4 283.6,358.5Q282.5,359.6 280.8,360.0Q279.0,360.4 277.2,360.0Q275.5,359.6 274.1,358.4Z" fill="none" stroke="#1c1c1c" stroke-width="0.8"/>
</g>
<rect x="268.5" y="327.5" width="76.69999999999999" height="75.39999999999998" fill="none" stroke="#3a3a3a" stroke-width="0.9"/>
<line x1="298.6" y1="327.5" x2="298.6" y2="402.9" stroke="#000" stroke-width="1.3"/>
<line x1="268.5" y1="364.1" x2="345.2" y2="364.1" stroke="#000" stroke-width="1.3"/>
<rect x="269.7" y="328.7" width="6.5" height="3.4" fill="#fff" stroke="#999" stroke-width="0.6"/>
<rect x="270.5" y="399.29999999999995" width="6.5" height="3" fill="#fff" stroke="#999" stroke-width="0.6"/>
<rect x="337.2" y="397.9" width="6.5" height="3" fill="#fff" stroke="#999" stroke-width="0.6"/>
<line x1="267.2" y1="329.5" x2="268.5" y2="329.5" stroke="#444" stroke-width="0.6"/>
<line x1="269.5" y1="402.9" x2="269.5" y2="404.2" stroke="#444" stroke-width="0.6"/>
<line x1="267.2" y1="331.5" x2="268.5" y2="331.5" stroke="#444" stroke-width="0.6"/>
<line x1="271.5" y1="402.9" x2="271.5" y2="404.2" stroke="#444" stroke-width="0.6"/>
<line x1="267.2" y1="333.5" x2="268.5" y2="333.5" stroke="#444" stroke-width="0.6"/>
<line x1="273.5" y1="402.9" x2="273.5" y2="404.2" stroke="#444" stroke-width="0.6"/>
<line x1="267.2" y1="335.5" x2="268.5" y2="335.5" stroke="#444" stroke-width="0.6"/>
<line x1="275.5" y1="402.9" x2="275.5" y2="404.2" stroke="#444" stroke-width="0.6"/>
<line x1="267.2" y1="337.5" x2="268.5" y2="337.5" stroke="#444" stroke-width="0.6"/>
<line x1="277.5" y1="402.9" x2="277.5" y2="404.2" stroke="#444" stroke-width="0.6"/>
<line x1="267.2" y1="339.5" x2="268.5" y2="339.5" stroke="#444" stroke-width="0.6"/>
<line x1="279.5" y1="402.9" x2="279.5" y2="404.2" stroke="#444" stroke-width="0.6"/>
<line x1="267.2" y1="341.5" x2="268.5" y2="341.5" stroke="#444" stroke-width="0.6"/>
<line x1="281.5" y1="402.9" x2="281.5" y2="404.2" stroke="#444" stroke-width="0.6"/>
<line x1="267.2" y1="343.5" x2="268.5" y2="343.5" stroke="#444" stroke-width="0.6"/>
<line x1="283.5" y1="402.9" x2="283.5" y2="404.2" stroke="#444" stroke-width="0.6"/>
<line x1="267.2" y1="345.5" x2="268.5" y2="345.5" stroke="#444" stroke-width="0.6"/>
<line x1="285.5" y1="402.9" x2="285.5" y2="404.2" stroke="#444" stroke-width="0.6"/>
<line x1="267.2" y1="347.5" x2="268.5" y2="347.5" stroke="#444" stroke-width="0.6"/>
<line x1="287.5" y1="402.9" x2="287.5" y2="404.2" stroke="#444" stroke-width="0.6"/>
<line x1="267.2" y1="349.5" x2="268.5" y2="349.5" stroke="#444" stroke-width="0.6"/>
<line x1="289.5" y1="402.9" x2="289.5" y2="404.2" stroke="#444" stroke-width="0.6"/>
<line x1="267.2" y1="351.5" x2="268.5" y2="351.5" stroke="#444" stroke-width="0.6"/>
<line x1="291.5" y1="402.9" x2="291.5" y2="404.2" stroke="#444" stroke-width="0.6"/>
<line x1="267.2" y1="353.5" x2="268.5" y2="353.5" stroke="#444" stroke-width="0.6"/>
<line x1="293.5" y1="402.9" x2="293.5" y2="404.2" stroke="#444" stroke-width="0.6"/>
<line x1="267.2" y1="355.5" x2="268.5" y2="355.5" stroke="#444" stroke-width="0.6"/>
<line x1="295.5" y1="402.9" x2="295.5" y2="404.2" stroke="#444" stroke-width="0.6"/>
<line x1="267.2" y1="357.5" x2="268.5" y2="357.5" stroke="#444" stroke-width="0.6"/>
<line x1="297.5" y1="402.9" x2="297.5" y2="404.2" stroke="#444" stroke-width="0.6"/>
<line x1="267.2" y1="359.5" x2="268.5" y2="359.5" stroke="#444" stroke-width="0.6"/>
<line x1="299.5" y1="402.9" x2="299.5" y2="404.2" stroke="#444" stroke-width="0.6"/>
<line x1="267.2" y1="361.5" x2="268.5" y2="361.5" stroke="#444" stroke-width="0.6"/>
<line x1="301.5" y1="402.9" x2="301.5" y2="404.2" stroke="#444" stroke-width="0.6"/>
<line x1="267.2" y1="363.5" x2="268.5" y2="363.5" stroke="#444" stroke-width="0.6"/>
<line x1="303.5" y1="402.9" x2="303.5" y2="404.2" stroke="#444" stroke-width="0.6"/>
<line x1="267.2" y1="365.5" x2="268.5" y2="365.5" stroke="#444" stroke-width="0.6"/>
<line x1="305.5" y1="402.9" x2="305.5" y2="404.2" stroke="#444" stroke-width="0.6"/>
<line x1="267.2" y1="367.5" x2="268.5" y2="367.5" stroke="#444" stroke-width="0.6"/>
<line x1="307.5" y1="402.9" x2="307.5" y2="404.2" stroke="#444" stroke-width="0.6"/>
<line x1="267.2" y1="369.5" x2="268.5" y2="369.5" stroke="#444" stroke-width="0.6"/>
<line x1="309.5" y1="402.9" x2="309.5" y2="404.2" stroke="#444" stroke-width="0.6"/>
<line x1="267.2" y1="371.5" x2="268.5" y2="371.5" stroke="#444" stroke-width="0.6"/>
<line x1="311.5" y1="402.9" x2="311.5" y2="404.2" stroke="#444" stroke-width="0.6"/>
<line x1="267.2" y1="373.5" x2="268.5" y2="373.5" stroke="#444" stroke-width="0.6"/>
<line x1="313.5" y1="402.9" x2="313.5" y2="404.2" stroke="#444" stroke-width="0.6"/>
<line x1="267.2" y1="375.5" x2="268.5" y2="375.5" stroke="#444" stroke-width="0.6"/>
<line x1="315.5" y1="402.9" x2="315.5" y2="404.2" stroke="#444" stroke-width="0.6"/>
<line x1="267.2" y1="377.5" x2="268.5" y2="377.5" stroke="#444" stroke-width="0.6"/>
<line x1="317.5" y1="402.9" x2="317.5" y2="404.2" stroke="#444" stroke-width="0.6"/>
<line x1="267.2" y1="379.5" x2="268.5" y2="379.5" stroke="#444" stroke-width="0.6"/>
<line x1="319.5" y1="402.9" x2="319.5" y2="404.2" stroke="#444" stroke-width="0.6"/>
<line x1="267.2" y1="381.5" x2="268.5" y2="381.5" stroke="#444" stroke-width="0.6"/>
<line x1="321.5" y1="402.9" x2="321.5" y2="404.2" stroke="#444" stroke-width="0.6"/>
<line x1="267.2" y1="383.5" x2="268.5" y2="383.5" stroke="#444" stroke-width="0.6"/>
<line x1="323.5" y1="402.9" x2="323.5" y2="404.2" stroke="#444" stroke-width="0.6"/>
<line x1="267.2" y1="385.5" x2="268.5" y2="385.5" stroke="#444" stroke-width="0.6"/>
<line x1="325.5" y1="402.9" x2="325.5" y2="404.2" stroke="#444" stroke-width="0.6"/>
<line x1="267.2" y1="387.5" x2="268.5" y2="387.5" stroke="#444" stroke-width="0.6"/>
<line x1="327.5" y1="402.9" x2="327.5" y2="404.2" stroke="#444" stroke-width="0.6"/>
<line x1="267.2" y1="389.5" x2="268.5" y2="389.5" stroke="#444" stroke-width="0.6"/>
<line x1="329.5" y1="402.9" x2="329.5" y2="404.2" stroke="#444" stroke-width="0.6"/>
<line x1="267.2" y1="391.5" x2="268.5" y2="391.5" stroke="#444" stroke-width="0.6"/>
<line x1="331.5" y1="402.9" x2="331.5" y2="404.2" stroke="#444" stroke-width="0.6"/>
<line x1="267.2" y1="393.5" x2="268.5" y2="393.5" stroke="#444" stroke-width="0.6"/>
<line x1="333.5" y1="402.9" x2="333.5" y2="404.2" stroke="#444" stroke-width="0.6"/>
<line x1="267.2" y1="395.5" x2="268.5" y2="395.5" stroke="#444" stroke-width="0.6"/>
<line x1="335.5" y1="402.9" x2="335.5" y2="404.2" stroke="#444" stroke-width="0.6"/>
<line x1="267.2" y1="397.5" x2="268.5" y2="397.5" stroke="#444" stroke-width="0.6"/>
<line x1="337.5" y1="402.9" x2="337.5" y2="404.2" stroke="#444" stroke-width="0.6"/>
<line x1="267.2" y1="399.5" x2="268.5" y2="399.5" stroke="#444" stroke-width="0.6"/>
<line x1="339.5" y1="402.9" x2="339.5" y2="404.2" stroke="#444" stroke-width="0.6"/>
<line x1="267.2" y1="401.5" x2="268.5" y2="401.5" stroke="#444" stroke-width="0.6"/>
<line x1="341.5" y1="402.9" x2="341.5" y2="404.2" stroke="#444" stroke-width="0.6"/>
<line x1="267.2" y1="403.5" x2="268.5" y2="403.5" stroke="#444" stroke-width="0.6"/>
<line x1="343.5" y1="402.9" x2="343.5" y2="404.2" stroke="#444" stroke-width="0.6"/>
<text x="269.7" y="343.2" font-size="15.6">4.3</text>
<text x="338.0" y="399.3" font-size="15.6" text-anchor="end">12</text>
<line x1="87" y1="412.7" x2="318" y2="412.7" stroke="#000" stroke-width="2"/>
<polygon points="315.4,406.3 328.6,412.7 315.4,419.1" fill="#000"/>
<text x="208.1" y="428.8" font-size="15.8" text-anchor="middle">CD8</text>
<line x1="96.25" y1="436.25" x2="96.25" y2="553.25" stroke="#000" stroke-width="1.1"/>
<line x1="96.25" y1="553.25" x2="315.8" y2="553.25" stroke="#000" stroke-width="1.1"/>
<line x1="91.5" y1="553.25" x2="96.25" y2="553.25" stroke="#000" stroke-width="1.1"/>
<text x="80" y="558.8" font-size="15.3" text-anchor="end">0</text>
<line x1="91.5" y1="529.85" x2="96.25" y2="529.85" stroke="#000" stroke-width="1.1"/>
<text x="80" y="535.4" font-size="15.3" text-anchor="end">5</text>
<line x1="91.5" y1="506.45" x2="96.25" y2="506.45" stroke="#000" stroke-width="1.1"/>
<text x="80" y="511.9" font-size="15.3" text-anchor="end">10</text>
<line x1="91.5" y1="483.05" x2="96.25" y2="483.05" stroke="#000" stroke-width="1.1"/>
<text x="80" y="488.6" font-size="15.3" text-anchor="end">15</text>
<line x1="91.5" y1="459.65" x2="96.25" y2="459.65" stroke="#000" stroke-width="1.1"/>
<text x="80" y="465.1" font-size="15.3" text-anchor="end">20</text>
<line x1="91.5" y1="436.25" x2="96.25" y2="436.25" stroke="#000" stroke-width="1.1"/>
<text x="80" y="441.8" font-size="15.3" text-anchor="end">25</text>
<line x1="96.25" y1="553.25" x2="96.25" y2="557.3" stroke="#000" stroke-width="1.1"/>
<line x1="151.10" y1="553.25" x2="151.10" y2="557.3" stroke="#000" stroke-width="1.1"/>
<line x1="205.95" y1="553.25" x2="205.95" y2="557.3" stroke="#000" stroke-width="1.1"/>
<line x1="260.80" y1="553.25" x2="260.80" y2="557.3" stroke="#000" stroke-width="1.1"/>
<line x1="315.65" y1="553.25" x2="315.65" y2="557.3" stroke="#000" stroke-width="1.1"/>
<text transform="translate(55,497.9) rotate(-90)" font-size="15.8" text-anchor="middle">% specific lysis</text>
<text x="124.1" y="582.3" font-size="15.5" text-anchor="middle">12.5:1</text>
<text x="178.9" y="582.3" font-size="15.5" text-anchor="middle">25:1</text>
<text x="233.4" y="582.3" font-size="15.5" text-anchor="middle">50:1</text>
<text x="288.5" y="582.3" font-size="15.5" text-anchor="middle">100:1</text>
<polyline points="123.8,531.6 178.5,522.3 233.3,498.3 288.3,459.1" fill="none" stroke="#000" stroke-width="1.3"/>
<polyline points="123.8,529.1 178.5,535.3 233.3,513.5 288.3,499.1" fill="none" stroke="#000" stroke-width="1.3"/>
<polyline points="123.8,530.0 178.5,529.7 233.3,527.0 288.3,496.8" fill="none" stroke="#000" stroke-width="1.3"/>
<line x1="124" y1="518.8" x2="124" y2="524" stroke="#000" stroke-width="1"/>
<line x1="122" y1="518.8" x2="126.3" y2="518.8" stroke="#000" stroke-width="1"/>
<rect x="117.40" y="523.35" width="11.5" height="11.5" fill="#000"/>
<rect x="173.00" y="529.80" width="11.0" height="11.0" fill="#000"/>
<rect x="227.80" y="508.00" width="11.0" height="11.0" fill="#000"/>
<rect x="282.80" y="493.60" width="11.0" height="11.0" fill="#000"/>
<polygon points="123.75,526.10 118.05,537.05 129.45,537.05" fill="#a0a0a0" stroke="#000" stroke-width="1.15" stroke-linejoin="miter"/>
<polygon points="178.50,516.80 172.80,527.75 184.20,527.75" fill="#a0a0a0" stroke="#000" stroke-width="1.15" stroke-linejoin="miter"/>
<polygon points="233.30,492.80 227.60,503.75 239.00,503.75" fill="#a0a0a0" stroke="#000" stroke-width="1.15" stroke-linejoin="miter"/>
<polygon points="288.30,453.60 282.60,464.55 294.00,464.55" fill="#a0a0a0" stroke="#000" stroke-width="1.15" stroke-linejoin="miter"/>
<polygon points="123.75,524.50 118.05,535.45 129.45,535.45" fill="#fff" stroke="#000" stroke-width="1.15" stroke-linejoin="miter"/>
<polygon points="178.50,524.20 172.80,535.15 184.20,535.15" fill="#fff" stroke="#000" stroke-width="1.15" stroke-linejoin="miter"/>
<polygon points="233.30,521.45 227.60,532.40 239.00,532.40" fill="#fff" stroke="#000" stroke-width="1.15" stroke-linejoin="miter"/>
<polygon points="288.30,491.30 282.60,502.25 294.00,502.25" fill="#fff" stroke="#000" stroke-width="1.15" stroke-linejoin="miter"/>
<text transform="translate(238.20,482.30) scale(0.9,1.08)" x="0" y="10.30" font-size="21" text-anchor="middle">*</text>
<text transform="translate(298.40,446.30) scale(0.9,1.08)" x="0" y="10.30" font-size="21" text-anchor="middle">*</text>
<line x1="286.6" y1="452.9" x2="290" y2="452.9" stroke="#000" stroke-width="1"/>
<line x1="92.9" y1="645" x2="92.9" y2="761.25" stroke="#000" stroke-width="1.1"/>
<line x1="92.9" y1="761.25" x2="329.8" y2="761.25" stroke="#000" stroke-width="1.1"/>
<line x1="87.7" y1="761.25" x2="92.9" y2="761.25" stroke="#000" stroke-width="1.1"/>
<text x="78.8" y="765.4" font-size="15.5" text-anchor="end">0</text>
<line x1="87.7" y1="732.19" x2="92.9" y2="732.19" stroke="#000" stroke-width="1.1"/>
<text x="78.8" y="736.3" font-size="15.5" text-anchor="end">10</text>
<line x1="87.7" y1="703.13" x2="92.9" y2="703.13" stroke="#000" stroke-width="1.1"/>
<text x="78.8" y="707.2" font-size="15.5" text-anchor="end">20</text>
<line x1="87.7" y1="674.07" x2="92.9" y2="674.07" stroke="#000" stroke-width="1.1"/>
<text x="78.8" y="678.2" font-size="15.5" text-anchor="end">30</text>
<line x1="87.7" y1="645.01" x2="92.9" y2="645.01" stroke="#000" stroke-width="1.1"/>
<text x="78.8" y="649.1" font-size="15.5" text-anchor="end">40</text>
<line x1="92.90" y1="761.25" x2="92.90" y2="764.6" stroke="#000" stroke-width="1.1"/>
<line x1="152.10" y1="761.25" x2="152.10" y2="764.6" stroke="#000" stroke-width="1.1"/>
<line x1="211.30" y1="761.25" x2="211.30" y2="764.6" stroke="#000" stroke-width="1.1"/>
<line x1="270.50" y1="761.25" x2="270.50" y2="764.6" stroke="#000" stroke-width="1.1"/>
<line x1="329.70" y1="761.25" x2="329.70" y2="764.6" stroke="#000" stroke-width="1.1"/>
<text transform="translate(53.8,721.2) rotate(-90)" font-size="15.9" text-anchor="middle">% specific lysis</text>
<text x="120.8" y="789.2" font-size="15.8" text-anchor="middle">12.5:1</text>
<text x="179.8" y="789.2" font-size="15.8" text-anchor="middle">25:1</text>
<text x="239.6" y="789.2" font-size="15.8" text-anchor="middle">50:1</text>
<text x="298.3" y="789.2" font-size="15.8" text-anchor="middle">100:1</text>
<text x="219.6" y="813.2" font-size="15.6" text-anchor="middle">E:T</text>
<polyline points="122.1,738.8 181.0,721.6 240.0,699.8 298.8,677.8" fill="none" stroke="#000" stroke-width="1.3"/>
<polyline points="122.1,747.5 181.0,740.5 240.0,732.5 298.8,717.5" fill="none" stroke="#000" stroke-width="1.3"/>
<polyline points="122.1,750.2 181.0,743.5 240.0,732.3 298.8,721.0" fill="none" stroke="#000" stroke-width="1.3"/>
<rect x="116.40" y="733.10" width="11.4" height="11.4" fill="#000"/>
<rect x="175.30" y="715.90" width="11.4" height="11.4" fill="#000"/>
<rect x="234.30" y="694.10" width="11.4" height="11.4" fill="#000"/>
<rect x="293.10" y="672.10" width="11.4" height="11.4" fill="#000"/>
<polygon points="122.10,741.00 115.90,753.50 128.30,753.50" fill="#a0a0a0" stroke="#000" stroke-width="1.15" stroke-linejoin="miter"/>
<polygon points="181.00,734.00 174.80,746.50 187.20,746.50" fill="#a0a0a0" stroke="#000" stroke-width="1.15" stroke-linejoin="miter"/>
<polygon points="240.00,726.00 233.80,738.50 246.20,738.50" fill="#a0a0a0" stroke="#000" stroke-width="1.15" stroke-linejoin="miter"/>
<polygon points="298.80,711.00 292.60,723.50 305.00,723.50" fill="#a0a0a0" stroke="#000" stroke-width="1.15" stroke-linejoin="miter"/>
<polygon points="122.10,743.70 115.90,756.20 128.30,756.20" fill="#fff" stroke="#000" stroke-width="1.15" stroke-linejoin="miter"/>
<polygon points="181.00,737.00 174.80,749.50 187.20,749.50" fill="#fff" stroke="#000" stroke-width="1.15" stroke-linejoin="miter"/>
<polygon points="240.00,725.80 233.80,738.30 246.20,738.30" fill="#fff" stroke="#000" stroke-width="1.15" stroke-linejoin="miter"/>
<polygon points="298.80,714.50 292.60,727.00 305.00,727.00" fill="#fff" stroke="#000" stroke-width="1.15" stroke-linejoin="miter"/>
<text transform="translate(135.10,757.00) scale(0.9,1.08)" x="0" y="10.30" font-size="21" text-anchor="middle">*</text>
<text transform="translate(197.60,753.20) scale(0.9,1.08)" x="0" y="10.30" font-size="21" text-anchor="middle">*</text>
<text transform="translate(258.20,741.60) scale(0.9,1.08)" x="0" y="10.30" font-size="21" text-anchor="middle">*</text>
<text transform="translate(320.50,718.40) scale(0.9,1.08)" x="0" y="10.30" font-size="21" text-anchor="middle">*</text>
</svg>
</body></html>
